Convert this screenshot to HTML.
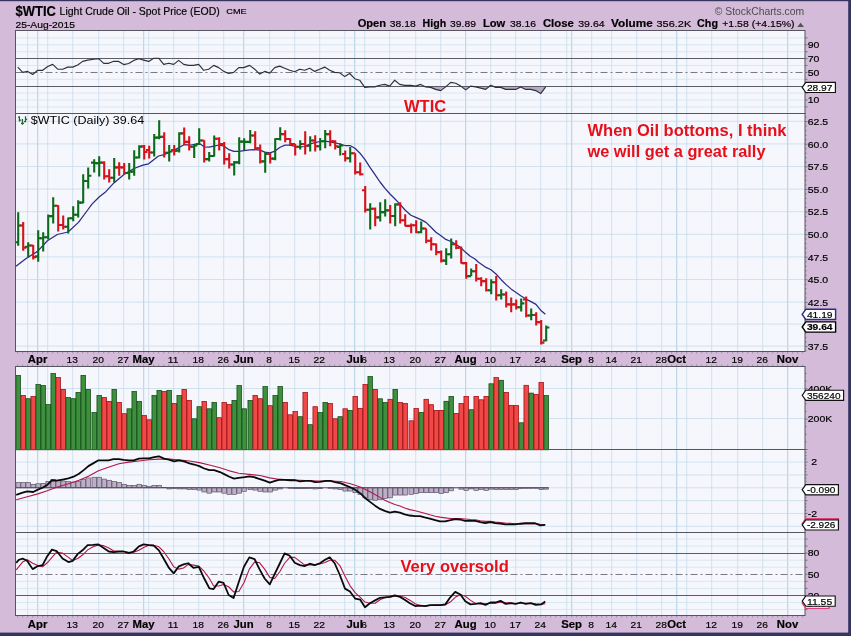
<!DOCTYPE html>
<html><head><meta charset="utf-8"><title>$WTIC chart</title>
<style>
html,body{margin:0;padding:0;background:#D4BBD9;}
body{width:851px;height:636px;overflow:hidden;position:relative;font-family:"Liberation Sans",sans-serif;}
</style></head><body>
<svg width="851" height="636" viewBox="0 0 851 636" style="position:absolute;left:0;top:0;will-change:transform">
<style>text{stroke:#000;stroke-width:0.18px;paint-order:stroke} text.c{stroke:none}</style>
<rect width="851" height="636" fill="#D4BBD9"/>
<rect x="15.5" y="30.5" width="789.5" height="83.0" fill="#F6F6FD"/>
<rect x="15.5" y="113.5" width="789.5" height="238.0" fill="#F6F6FD"/>
<rect x="15.5" y="366.5" width="789.5" height="83.0" fill="#F6F6FD"/>
<rect x="15.5" y="449.5" width="789.5" height="83.0" fill="#F6F6FD"/>
<rect x="15.5" y="532.5" width="789.5" height="83.0" fill="#F6F6FD"/>
<line x1="27.7" y1="30.5" x2="27.7" y2="113.5" stroke="#C0DAE6" stroke-width="0.7"/>
<line x1="47.7" y1="30.5" x2="47.7" y2="113.5" stroke="#C0DAE6" stroke-width="0.7"/>
<line x1="72.7" y1="30.5" x2="72.7" y2="113.5" stroke="#C0DAE6" stroke-width="0.7"/>
<line x1="98.7" y1="30.5" x2="98.7" y2="113.5" stroke="#C0DAE6" stroke-width="0.7"/>
<line x1="123.7" y1="30.5" x2="123.7" y2="113.5" stroke="#C0DAE6" stroke-width="0.7"/>
<line x1="148.7" y1="30.5" x2="148.7" y2="113.5" stroke="#C0DAE6" stroke-width="0.7"/>
<line x1="173.7" y1="30.5" x2="173.7" y2="113.5" stroke="#C0DAE6" stroke-width="0.7"/>
<line x1="198.7" y1="30.5" x2="198.7" y2="113.5" stroke="#C0DAE6" stroke-width="0.7"/>
<line x1="223.7" y1="30.5" x2="223.7" y2="113.5" stroke="#C0DAE6" stroke-width="0.7"/>
<line x1="269.7" y1="30.5" x2="269.7" y2="113.5" stroke="#C0DAE6" stroke-width="0.7"/>
<line x1="294.7" y1="30.5" x2="294.7" y2="113.5" stroke="#C0DAE6" stroke-width="0.7"/>
<line x1="319.7" y1="30.5" x2="319.7" y2="113.5" stroke="#C0DAE6" stroke-width="0.7"/>
<line x1="344.7" y1="30.5" x2="344.7" y2="113.5" stroke="#C0DAE6" stroke-width="0.7"/>
<line x1="364.7" y1="30.5" x2="364.7" y2="113.5" stroke="#C0DAE6" stroke-width="0.7"/>
<line x1="389.7" y1="30.5" x2="389.7" y2="113.5" stroke="#C0DAE6" stroke-width="0.7"/>
<line x1="415.7" y1="30.5" x2="415.7" y2="113.5" stroke="#C0DAE6" stroke-width="0.7"/>
<line x1="440.7" y1="30.5" x2="440.7" y2="113.5" stroke="#C0DAE6" stroke-width="0.7"/>
<line x1="490.7" y1="30.5" x2="490.7" y2="113.5" stroke="#C0DAE6" stroke-width="0.7"/>
<line x1="515.7" y1="30.5" x2="515.7" y2="113.5" stroke="#C0DAE6" stroke-width="0.7"/>
<line x1="540.7" y1="30.5" x2="540.7" y2="113.5" stroke="#C0DAE6" stroke-width="0.7"/>
<line x1="566.7" y1="30.5" x2="566.7" y2="113.5" stroke="#C0DAE6" stroke-width="0.7"/>
<line x1="591.7" y1="30.5" x2="591.7" y2="113.5" stroke="#C0DAE6" stroke-width="0.7"/>
<line x1="611.7" y1="30.5" x2="611.7" y2="113.5" stroke="#C0DAE6" stroke-width="0.7"/>
<line x1="636.7" y1="30.5" x2="636.7" y2="113.5" stroke="#C0DAE6" stroke-width="0.7"/>
<line x1="661.7" y1="30.5" x2="661.7" y2="113.5" stroke="#C0DAE6" stroke-width="0.7"/>
<line x1="686.7" y1="30.5" x2="686.7" y2="113.5" stroke="#C0DAE6" stroke-width="0.7"/>
<line x1="711.7" y1="30.5" x2="711.7" y2="113.5" stroke="#C0DAE6" stroke-width="0.7"/>
<line x1="737.7" y1="30.5" x2="737.7" y2="113.5" stroke="#C0DAE6" stroke-width="0.7"/>
<line x1="762.7" y1="30.5" x2="762.7" y2="113.5" stroke="#C0DAE6" stroke-width="0.7"/>
<line x1="37.7" y1="30.5" x2="37.7" y2="113.5" stroke="#A6CBDD" stroke-width="0.85"/>
<line x1="143.7" y1="30.5" x2="143.7" y2="113.5" stroke="#A6CBDD" stroke-width="0.85"/>
<line x1="243.7" y1="30.5" x2="243.7" y2="113.5" stroke="#A6CBDD" stroke-width="0.85"/>
<line x1="354.7" y1="30.5" x2="354.7" y2="113.5" stroke="#A6CBDD" stroke-width="0.85"/>
<line x1="465.7" y1="30.5" x2="465.7" y2="113.5" stroke="#A6CBDD" stroke-width="0.85"/>
<line x1="571.7" y1="30.5" x2="571.7" y2="113.5" stroke="#A6CBDD" stroke-width="0.85"/>
<line x1="676.7" y1="30.5" x2="676.7" y2="113.5" stroke="#A6CBDD" stroke-width="0.85"/>
<line x1="787.7" y1="30.5" x2="787.7" y2="113.5" stroke="#A6CBDD" stroke-width="0.85"/>
<line x1="27.7" y1="113.5" x2="27.7" y2="351.5" stroke="#C0DAE6" stroke-width="0.7"/>
<line x1="47.7" y1="113.5" x2="47.7" y2="351.5" stroke="#C0DAE6" stroke-width="0.7"/>
<line x1="72.7" y1="113.5" x2="72.7" y2="351.5" stroke="#C0DAE6" stroke-width="0.7"/>
<line x1="98.7" y1="113.5" x2="98.7" y2="351.5" stroke="#C0DAE6" stroke-width="0.7"/>
<line x1="123.7" y1="113.5" x2="123.7" y2="351.5" stroke="#C0DAE6" stroke-width="0.7"/>
<line x1="148.7" y1="113.5" x2="148.7" y2="351.5" stroke="#C0DAE6" stroke-width="0.7"/>
<line x1="173.7" y1="113.5" x2="173.7" y2="351.5" stroke="#C0DAE6" stroke-width="0.7"/>
<line x1="198.7" y1="113.5" x2="198.7" y2="351.5" stroke="#C0DAE6" stroke-width="0.7"/>
<line x1="223.7" y1="113.5" x2="223.7" y2="351.5" stroke="#C0DAE6" stroke-width="0.7"/>
<line x1="269.7" y1="113.5" x2="269.7" y2="351.5" stroke="#C0DAE6" stroke-width="0.7"/>
<line x1="294.7" y1="113.5" x2="294.7" y2="351.5" stroke="#C0DAE6" stroke-width="0.7"/>
<line x1="319.7" y1="113.5" x2="319.7" y2="351.5" stroke="#C0DAE6" stroke-width="0.7"/>
<line x1="344.7" y1="113.5" x2="344.7" y2="351.5" stroke="#C0DAE6" stroke-width="0.7"/>
<line x1="364.7" y1="113.5" x2="364.7" y2="351.5" stroke="#C0DAE6" stroke-width="0.7"/>
<line x1="389.7" y1="113.5" x2="389.7" y2="351.5" stroke="#C0DAE6" stroke-width="0.7"/>
<line x1="415.7" y1="113.5" x2="415.7" y2="351.5" stroke="#C0DAE6" stroke-width="0.7"/>
<line x1="440.7" y1="113.5" x2="440.7" y2="351.5" stroke="#C0DAE6" stroke-width="0.7"/>
<line x1="490.7" y1="113.5" x2="490.7" y2="351.5" stroke="#C0DAE6" stroke-width="0.7"/>
<line x1="515.7" y1="113.5" x2="515.7" y2="351.5" stroke="#C0DAE6" stroke-width="0.7"/>
<line x1="540.7" y1="113.5" x2="540.7" y2="351.5" stroke="#C0DAE6" stroke-width="0.7"/>
<line x1="566.7" y1="113.5" x2="566.7" y2="351.5" stroke="#C0DAE6" stroke-width="0.7"/>
<line x1="591.7" y1="113.5" x2="591.7" y2="351.5" stroke="#C0DAE6" stroke-width="0.7"/>
<line x1="611.7" y1="113.5" x2="611.7" y2="351.5" stroke="#C0DAE6" stroke-width="0.7"/>
<line x1="636.7" y1="113.5" x2="636.7" y2="351.5" stroke="#C0DAE6" stroke-width="0.7"/>
<line x1="661.7" y1="113.5" x2="661.7" y2="351.5" stroke="#C0DAE6" stroke-width="0.7"/>
<line x1="686.7" y1="113.5" x2="686.7" y2="351.5" stroke="#C0DAE6" stroke-width="0.7"/>
<line x1="711.7" y1="113.5" x2="711.7" y2="351.5" stroke="#C0DAE6" stroke-width="0.7"/>
<line x1="737.7" y1="113.5" x2="737.7" y2="351.5" stroke="#C0DAE6" stroke-width="0.7"/>
<line x1="762.7" y1="113.5" x2="762.7" y2="351.5" stroke="#C0DAE6" stroke-width="0.7"/>
<line x1="37.7" y1="113.5" x2="37.7" y2="351.5" stroke="#A6CBDD" stroke-width="0.85"/>
<line x1="143.7" y1="113.5" x2="143.7" y2="351.5" stroke="#A6CBDD" stroke-width="0.85"/>
<line x1="243.7" y1="113.5" x2="243.7" y2="351.5" stroke="#A6CBDD" stroke-width="0.85"/>
<line x1="354.7" y1="113.5" x2="354.7" y2="351.5" stroke="#A6CBDD" stroke-width="0.85"/>
<line x1="465.7" y1="113.5" x2="465.7" y2="351.5" stroke="#A6CBDD" stroke-width="0.85"/>
<line x1="571.7" y1="113.5" x2="571.7" y2="351.5" stroke="#A6CBDD" stroke-width="0.85"/>
<line x1="676.7" y1="113.5" x2="676.7" y2="351.5" stroke="#A6CBDD" stroke-width="0.85"/>
<line x1="787.7" y1="113.5" x2="787.7" y2="351.5" stroke="#A6CBDD" stroke-width="0.85"/>
<line x1="27.7" y1="366.5" x2="27.7" y2="449.5" stroke="#C0DAE6" stroke-width="0.7"/>
<line x1="47.7" y1="366.5" x2="47.7" y2="449.5" stroke="#C0DAE6" stroke-width="0.7"/>
<line x1="72.7" y1="366.5" x2="72.7" y2="449.5" stroke="#C0DAE6" stroke-width="0.7"/>
<line x1="98.7" y1="366.5" x2="98.7" y2="449.5" stroke="#C0DAE6" stroke-width="0.7"/>
<line x1="123.7" y1="366.5" x2="123.7" y2="449.5" stroke="#C0DAE6" stroke-width="0.7"/>
<line x1="148.7" y1="366.5" x2="148.7" y2="449.5" stroke="#C0DAE6" stroke-width="0.7"/>
<line x1="173.7" y1="366.5" x2="173.7" y2="449.5" stroke="#C0DAE6" stroke-width="0.7"/>
<line x1="198.7" y1="366.5" x2="198.7" y2="449.5" stroke="#C0DAE6" stroke-width="0.7"/>
<line x1="223.7" y1="366.5" x2="223.7" y2="449.5" stroke="#C0DAE6" stroke-width="0.7"/>
<line x1="269.7" y1="366.5" x2="269.7" y2="449.5" stroke="#C0DAE6" stroke-width="0.7"/>
<line x1="294.7" y1="366.5" x2="294.7" y2="449.5" stroke="#C0DAE6" stroke-width="0.7"/>
<line x1="319.7" y1="366.5" x2="319.7" y2="449.5" stroke="#C0DAE6" stroke-width="0.7"/>
<line x1="344.7" y1="366.5" x2="344.7" y2="449.5" stroke="#C0DAE6" stroke-width="0.7"/>
<line x1="364.7" y1="366.5" x2="364.7" y2="449.5" stroke="#C0DAE6" stroke-width="0.7"/>
<line x1="389.7" y1="366.5" x2="389.7" y2="449.5" stroke="#C0DAE6" stroke-width="0.7"/>
<line x1="415.7" y1="366.5" x2="415.7" y2="449.5" stroke="#C0DAE6" stroke-width="0.7"/>
<line x1="440.7" y1="366.5" x2="440.7" y2="449.5" stroke="#C0DAE6" stroke-width="0.7"/>
<line x1="490.7" y1="366.5" x2="490.7" y2="449.5" stroke="#C0DAE6" stroke-width="0.7"/>
<line x1="515.7" y1="366.5" x2="515.7" y2="449.5" stroke="#C0DAE6" stroke-width="0.7"/>
<line x1="540.7" y1="366.5" x2="540.7" y2="449.5" stroke="#C0DAE6" stroke-width="0.7"/>
<line x1="566.7" y1="366.5" x2="566.7" y2="449.5" stroke="#C0DAE6" stroke-width="0.7"/>
<line x1="591.7" y1="366.5" x2="591.7" y2="449.5" stroke="#C0DAE6" stroke-width="0.7"/>
<line x1="611.7" y1="366.5" x2="611.7" y2="449.5" stroke="#C0DAE6" stroke-width="0.7"/>
<line x1="636.7" y1="366.5" x2="636.7" y2="449.5" stroke="#C0DAE6" stroke-width="0.7"/>
<line x1="661.7" y1="366.5" x2="661.7" y2="449.5" stroke="#C0DAE6" stroke-width="0.7"/>
<line x1="686.7" y1="366.5" x2="686.7" y2="449.5" stroke="#C0DAE6" stroke-width="0.7"/>
<line x1="711.7" y1="366.5" x2="711.7" y2="449.5" stroke="#C0DAE6" stroke-width="0.7"/>
<line x1="737.7" y1="366.5" x2="737.7" y2="449.5" stroke="#C0DAE6" stroke-width="0.7"/>
<line x1="762.7" y1="366.5" x2="762.7" y2="449.5" stroke="#C0DAE6" stroke-width="0.7"/>
<line x1="37.7" y1="366.5" x2="37.7" y2="449.5" stroke="#A6CBDD" stroke-width="0.85"/>
<line x1="143.7" y1="366.5" x2="143.7" y2="449.5" stroke="#A6CBDD" stroke-width="0.85"/>
<line x1="243.7" y1="366.5" x2="243.7" y2="449.5" stroke="#A6CBDD" stroke-width="0.85"/>
<line x1="354.7" y1="366.5" x2="354.7" y2="449.5" stroke="#A6CBDD" stroke-width="0.85"/>
<line x1="465.7" y1="366.5" x2="465.7" y2="449.5" stroke="#A6CBDD" stroke-width="0.85"/>
<line x1="571.7" y1="366.5" x2="571.7" y2="449.5" stroke="#A6CBDD" stroke-width="0.85"/>
<line x1="676.7" y1="366.5" x2="676.7" y2="449.5" stroke="#A6CBDD" stroke-width="0.85"/>
<line x1="787.7" y1="366.5" x2="787.7" y2="449.5" stroke="#A6CBDD" stroke-width="0.85"/>
<line x1="27.7" y1="449.5" x2="27.7" y2="532.5" stroke="#C0DAE6" stroke-width="0.7"/>
<line x1="47.7" y1="449.5" x2="47.7" y2="532.5" stroke="#C0DAE6" stroke-width="0.7"/>
<line x1="72.7" y1="449.5" x2="72.7" y2="532.5" stroke="#C0DAE6" stroke-width="0.7"/>
<line x1="98.7" y1="449.5" x2="98.7" y2="532.5" stroke="#C0DAE6" stroke-width="0.7"/>
<line x1="123.7" y1="449.5" x2="123.7" y2="532.5" stroke="#C0DAE6" stroke-width="0.7"/>
<line x1="148.7" y1="449.5" x2="148.7" y2="532.5" stroke="#C0DAE6" stroke-width="0.7"/>
<line x1="173.7" y1="449.5" x2="173.7" y2="532.5" stroke="#C0DAE6" stroke-width="0.7"/>
<line x1="198.7" y1="449.5" x2="198.7" y2="532.5" stroke="#C0DAE6" stroke-width="0.7"/>
<line x1="223.7" y1="449.5" x2="223.7" y2="532.5" stroke="#C0DAE6" stroke-width="0.7"/>
<line x1="269.7" y1="449.5" x2="269.7" y2="532.5" stroke="#C0DAE6" stroke-width="0.7"/>
<line x1="294.7" y1="449.5" x2="294.7" y2="532.5" stroke="#C0DAE6" stroke-width="0.7"/>
<line x1="319.7" y1="449.5" x2="319.7" y2="532.5" stroke="#C0DAE6" stroke-width="0.7"/>
<line x1="344.7" y1="449.5" x2="344.7" y2="532.5" stroke="#C0DAE6" stroke-width="0.7"/>
<line x1="364.7" y1="449.5" x2="364.7" y2="532.5" stroke="#C0DAE6" stroke-width="0.7"/>
<line x1="389.7" y1="449.5" x2="389.7" y2="532.5" stroke="#C0DAE6" stroke-width="0.7"/>
<line x1="415.7" y1="449.5" x2="415.7" y2="532.5" stroke="#C0DAE6" stroke-width="0.7"/>
<line x1="440.7" y1="449.5" x2="440.7" y2="532.5" stroke="#C0DAE6" stroke-width="0.7"/>
<line x1="490.7" y1="449.5" x2="490.7" y2="532.5" stroke="#C0DAE6" stroke-width="0.7"/>
<line x1="515.7" y1="449.5" x2="515.7" y2="532.5" stroke="#C0DAE6" stroke-width="0.7"/>
<line x1="540.7" y1="449.5" x2="540.7" y2="532.5" stroke="#C0DAE6" stroke-width="0.7"/>
<line x1="566.7" y1="449.5" x2="566.7" y2="532.5" stroke="#C0DAE6" stroke-width="0.7"/>
<line x1="591.7" y1="449.5" x2="591.7" y2="532.5" stroke="#C0DAE6" stroke-width="0.7"/>
<line x1="611.7" y1="449.5" x2="611.7" y2="532.5" stroke="#C0DAE6" stroke-width="0.7"/>
<line x1="636.7" y1="449.5" x2="636.7" y2="532.5" stroke="#C0DAE6" stroke-width="0.7"/>
<line x1="661.7" y1="449.5" x2="661.7" y2="532.5" stroke="#C0DAE6" stroke-width="0.7"/>
<line x1="686.7" y1="449.5" x2="686.7" y2="532.5" stroke="#C0DAE6" stroke-width="0.7"/>
<line x1="711.7" y1="449.5" x2="711.7" y2="532.5" stroke="#C0DAE6" stroke-width="0.7"/>
<line x1="737.7" y1="449.5" x2="737.7" y2="532.5" stroke="#C0DAE6" stroke-width="0.7"/>
<line x1="762.7" y1="449.5" x2="762.7" y2="532.5" stroke="#C0DAE6" stroke-width="0.7"/>
<line x1="37.7" y1="449.5" x2="37.7" y2="532.5" stroke="#A6CBDD" stroke-width="0.85"/>
<line x1="143.7" y1="449.5" x2="143.7" y2="532.5" stroke="#A6CBDD" stroke-width="0.85"/>
<line x1="243.7" y1="449.5" x2="243.7" y2="532.5" stroke="#A6CBDD" stroke-width="0.85"/>
<line x1="354.7" y1="449.5" x2="354.7" y2="532.5" stroke="#A6CBDD" stroke-width="0.85"/>
<line x1="465.7" y1="449.5" x2="465.7" y2="532.5" stroke="#A6CBDD" stroke-width="0.85"/>
<line x1="571.7" y1="449.5" x2="571.7" y2="532.5" stroke="#A6CBDD" stroke-width="0.85"/>
<line x1="676.7" y1="449.5" x2="676.7" y2="532.5" stroke="#A6CBDD" stroke-width="0.85"/>
<line x1="787.7" y1="449.5" x2="787.7" y2="532.5" stroke="#A6CBDD" stroke-width="0.85"/>
<line x1="27.7" y1="532.5" x2="27.7" y2="615.5" stroke="#C0DAE6" stroke-width="0.7"/>
<line x1="47.7" y1="532.5" x2="47.7" y2="615.5" stroke="#C0DAE6" stroke-width="0.7"/>
<line x1="72.7" y1="532.5" x2="72.7" y2="615.5" stroke="#C0DAE6" stroke-width="0.7"/>
<line x1="98.7" y1="532.5" x2="98.7" y2="615.5" stroke="#C0DAE6" stroke-width="0.7"/>
<line x1="123.7" y1="532.5" x2="123.7" y2="615.5" stroke="#C0DAE6" stroke-width="0.7"/>
<line x1="148.7" y1="532.5" x2="148.7" y2="615.5" stroke="#C0DAE6" stroke-width="0.7"/>
<line x1="173.7" y1="532.5" x2="173.7" y2="615.5" stroke="#C0DAE6" stroke-width="0.7"/>
<line x1="198.7" y1="532.5" x2="198.7" y2="615.5" stroke="#C0DAE6" stroke-width="0.7"/>
<line x1="223.7" y1="532.5" x2="223.7" y2="615.5" stroke="#C0DAE6" stroke-width="0.7"/>
<line x1="269.7" y1="532.5" x2="269.7" y2="615.5" stroke="#C0DAE6" stroke-width="0.7"/>
<line x1="294.7" y1="532.5" x2="294.7" y2="615.5" stroke="#C0DAE6" stroke-width="0.7"/>
<line x1="319.7" y1="532.5" x2="319.7" y2="615.5" stroke="#C0DAE6" stroke-width="0.7"/>
<line x1="344.7" y1="532.5" x2="344.7" y2="615.5" stroke="#C0DAE6" stroke-width="0.7"/>
<line x1="364.7" y1="532.5" x2="364.7" y2="615.5" stroke="#C0DAE6" stroke-width="0.7"/>
<line x1="389.7" y1="532.5" x2="389.7" y2="615.5" stroke="#C0DAE6" stroke-width="0.7"/>
<line x1="415.7" y1="532.5" x2="415.7" y2="615.5" stroke="#C0DAE6" stroke-width="0.7"/>
<line x1="440.7" y1="532.5" x2="440.7" y2="615.5" stroke="#C0DAE6" stroke-width="0.7"/>
<line x1="490.7" y1="532.5" x2="490.7" y2="615.5" stroke="#C0DAE6" stroke-width="0.7"/>
<line x1="515.7" y1="532.5" x2="515.7" y2="615.5" stroke="#C0DAE6" stroke-width="0.7"/>
<line x1="540.7" y1="532.5" x2="540.7" y2="615.5" stroke="#C0DAE6" stroke-width="0.7"/>
<line x1="566.7" y1="532.5" x2="566.7" y2="615.5" stroke="#C0DAE6" stroke-width="0.7"/>
<line x1="591.7" y1="532.5" x2="591.7" y2="615.5" stroke="#C0DAE6" stroke-width="0.7"/>
<line x1="611.7" y1="532.5" x2="611.7" y2="615.5" stroke="#C0DAE6" stroke-width="0.7"/>
<line x1="636.7" y1="532.5" x2="636.7" y2="615.5" stroke="#C0DAE6" stroke-width="0.7"/>
<line x1="661.7" y1="532.5" x2="661.7" y2="615.5" stroke="#C0DAE6" stroke-width="0.7"/>
<line x1="686.7" y1="532.5" x2="686.7" y2="615.5" stroke="#C0DAE6" stroke-width="0.7"/>
<line x1="711.7" y1="532.5" x2="711.7" y2="615.5" stroke="#C0DAE6" stroke-width="0.7"/>
<line x1="737.7" y1="532.5" x2="737.7" y2="615.5" stroke="#C0DAE6" stroke-width="0.7"/>
<line x1="762.7" y1="532.5" x2="762.7" y2="615.5" stroke="#C0DAE6" stroke-width="0.7"/>
<line x1="37.7" y1="532.5" x2="37.7" y2="615.5" stroke="#A6CBDD" stroke-width="0.85"/>
<line x1="143.7" y1="532.5" x2="143.7" y2="615.5" stroke="#A6CBDD" stroke-width="0.85"/>
<line x1="243.7" y1="532.5" x2="243.7" y2="615.5" stroke="#A6CBDD" stroke-width="0.85"/>
<line x1="354.7" y1="532.5" x2="354.7" y2="615.5" stroke="#A6CBDD" stroke-width="0.85"/>
<line x1="465.7" y1="532.5" x2="465.7" y2="615.5" stroke="#A6CBDD" stroke-width="0.85"/>
<line x1="571.7" y1="532.5" x2="571.7" y2="615.5" stroke="#A6CBDD" stroke-width="0.85"/>
<line x1="676.7" y1="532.5" x2="676.7" y2="615.5" stroke="#A6CBDD" stroke-width="0.85"/>
<line x1="787.7" y1="532.5" x2="787.7" y2="615.5" stroke="#A6CBDD" stroke-width="0.85"/>
<line x1="15.5" y1="106.9" x2="805.0" y2="106.9" stroke="#CBE2EC" stroke-width="0.7"/>
<line x1="15.5" y1="100" x2="805.0" y2="100" stroke="#CBE2EC" stroke-width="0.7"/>
<line x1="15.5" y1="93.1" x2="805.0" y2="93.1" stroke="#CBE2EC" stroke-width="0.7"/>
<line x1="15.5" y1="79.3" x2="805.0" y2="79.3" stroke="#CBE2EC" stroke-width="0.7"/>
<line x1="15.5" y1="65.5" x2="805.0" y2="65.5" stroke="#CBE2EC" stroke-width="0.7"/>
<line x1="15.5" y1="51.7" x2="805.0" y2="51.7" stroke="#CBE2EC" stroke-width="0.7"/>
<line x1="15.5" y1="44.8" x2="805.0" y2="44.8" stroke="#CBE2EC" stroke-width="0.7"/>
<line x1="15.5" y1="37.9" x2="805.0" y2="37.9" stroke="#CBE2EC" stroke-width="0.7"/>
<clipPath id="c30"><rect x="15.5" y="86.2" width="789.5" height="40"/></clipPath>
<path d="M17.7 86.2 L17.7 67.1 L22.7 72.4 L27.7 71.4 L32.7 74.5 L37.7 70.3 L42.7 70.3 L47.7 66.5 L52.7 64.4 L57.7 69.2 L62.7 69.2 L67.7 67.1 L72.7 67.1 L77.7 65 L82.7 61.4 L87.7 60.1 L93.7 59.3 L98.7 58.7 L103.7 63.3 L108.7 63.3 L113.7 61.2 L118.7 61.4 L123.7 64.6 L128.7 63.5 L133.7 60.4 L138.7 58.7 L143.7 60.1 L148.7 61.4 L153.7 58.2 L158.7 58.2 L163.7 64.4 L168.7 63.3 L173.7 64.4 L178.7 60.4 L183.7 64.4 L188.7 65.4 L193.7 65.4 L198.7 64.4 L203.7 70.3 L208.7 69.2 L213.7 65.4 L218.7 67.6 L223.7 71.4 L228.7 73.5 L233.7 72.4 L238.7 67.6 L243.7 67.6 L249.7 65.4 L254.7 69.2 L259.7 74.1 L264.7 71.4 L269.7 73.1 L274.7 67.6 L279.7 66.1 L284.7 68.2 L289.7 70.3 L294.7 71.8 L299.7 69.2 L304.7 70.3 L309.7 68.2 L314.7 71.4 L319.7 69.2 L324.7 67.1 L329.7 70.3 L334.7 72.4 L339.7 72.8 L344.7 76.6 L349.7 73.5 L354.7 78.7 L359.7 80.2 L364.7 87.4 L369.7 86.9 L374.7 86.9 L379.7 85.2 L384.7 84.4 L389.7 86.1 L394.7 80.2 L399.7 84.4 L404.7 85.4 L410.7 85.4 L415.7 86.1 L420.7 84.4 L425.7 86.9 L430.7 87.4 L435.7 89.4 L440.7 90.6 L445.7 86.9 L450.7 82.4 L455.7 83.2 L460.7 86.1 L465.7 89.9 L470.7 86.1 L475.7 86.9 L480.7 88.1 L485.7 89.4 L490.7 85.2 L495.7 87.4 L500.7 87.4 L505.7 89.4 L510.7 89.4 L515.7 89.4 L520.7 86.9 L525.7 89.4 L530.7 89.4 L535.7 90.6 L540.7 93.6 L545.7 86.9 L545.7 86.2 Z" fill="#b9a9c4" clip-path="url(#c30)"/>
<line x1="15.5" y1="58.5" x2="805.0" y2="58.5" stroke="#5c5c66" stroke-width="1.0"/>
<line x1="15.5" y1="86.5" x2="805.0" y2="86.5" stroke="#5c5c66" stroke-width="1.0"/>
<line x1="15.5" y1="72.5" x2="805.0" y2="72.5" stroke="#7a7a84" stroke-width="1.0" stroke-dasharray="7 3 2 3"/>
<path d="M17.7 67.1 L22.7 72.4 L27.7 71.4 L32.7 74.5 L37.7 70.3 L42.7 70.3 L47.7 66.5 L52.7 64.4 L57.7 69.2 L62.7 69.2 L67.7 67.1 L72.7 67.1 L77.7 65 L82.7 61.4 L87.7 60.1 L93.7 59.3 L98.7 58.7 L103.7 63.3 L108.7 63.3 L113.7 61.2 L118.7 61.4 L123.7 64.6 L128.7 63.5 L133.7 60.4 L138.7 58.7 L143.7 60.1 L148.7 61.4 L153.7 58.2 L158.7 58.2 L163.7 64.4 L168.7 63.3 L173.7 64.4 L178.7 60.4 L183.7 64.4 L188.7 65.4 L193.7 65.4 L198.7 64.4 L203.7 70.3 L208.7 69.2 L213.7 65.4 L218.7 67.6 L223.7 71.4 L228.7 73.5 L233.7 72.4 L238.7 67.6 L243.7 67.6 L249.7 65.4 L254.7 69.2 L259.7 74.1 L264.7 71.4 L269.7 73.1 L274.7 67.6 L279.7 66.1 L284.7 68.2 L289.7 70.3 L294.7 71.8 L299.7 69.2 L304.7 70.3 L309.7 68.2 L314.7 71.4 L319.7 69.2 L324.7 67.1 L329.7 70.3 L334.7 72.4 L339.7 72.8 L344.7 76.6 L349.7 73.5 L354.7 78.7 L359.7 80.2 L364.7 87.4 L369.7 86.9 L374.7 86.9 L379.7 85.2 L384.7 84.4 L389.7 86.1 L394.7 80.2 L399.7 84.4 L404.7 85.4 L410.7 85.4 L415.7 86.1 L420.7 84.4 L425.7 86.9 L430.7 87.4 L435.7 89.4 L440.7 90.6 L445.7 86.9 L450.7 82.4 L455.7 83.2 L460.7 86.1 L465.7 89.9 L470.7 86.1 L475.7 86.9 L480.7 88.1 L485.7 89.4 L490.7 85.2 L495.7 87.4 L500.7 87.4 L505.7 89.4 L510.7 89.4 L515.7 89.4 L520.7 86.9 L525.7 89.4 L530.7 89.4 L535.7 90.6 L540.7 93.6 L545.7 86.9" fill="none" stroke="#30303a" stroke-width="1.15" stroke-linejoin="round"/>
<line x1="15.5" y1="346.1" x2="805.0" y2="346.1" stroke="#C0DAE6" stroke-width="0.7"/>
<line x1="15.5" y1="324.1" x2="805.0" y2="324.1" stroke="#C0DAE6" stroke-width="0.7"/>
<line x1="15.5" y1="302.1" x2="805.0" y2="302.1" stroke="#C0DAE6" stroke-width="0.7"/>
<line x1="15.5" y1="279.5" x2="805.0" y2="279.5" stroke="#C0DAE6" stroke-width="0.7"/>
<line x1="15.5" y1="256.9" x2="805.0" y2="256.9" stroke="#C0DAE6" stroke-width="0.7"/>
<line x1="15.5" y1="234.3" x2="805.0" y2="234.3" stroke="#C0DAE6" stroke-width="0.7"/>
<line x1="15.5" y1="211.7" x2="805.0" y2="211.7" stroke="#C0DAE6" stroke-width="0.7"/>
<line x1="15.5" y1="189.1" x2="805.0" y2="189.1" stroke="#C0DAE6" stroke-width="0.7"/>
<line x1="15.5" y1="166.5" x2="805.0" y2="166.5" stroke="#C0DAE6" stroke-width="0.7"/>
<line x1="15.5" y1="143.9" x2="805.0" y2="143.9" stroke="#C0DAE6" stroke-width="0.7"/>
<line x1="15.5" y1="121.3" x2="805.0" y2="121.3" stroke="#C0DAE6" stroke-width="0.7"/>
<path d="M16 266.3 L26.1 258.5 L37.5 251.4 L47.4 240.8 L57.3 234.5 L68 232 L78.5 222.4 L88.4 209 L92 204.1 L99.1 197 L106.1 191.4 L113.9 182.9 L124 174.4 L134 168.5 L142.9 165.2 L148.6 163.8 L158.5 156 L164.1 154.6 L169.1 152.5 L179 147.5 L184.1 144.7 L191 145 L199.1 143.3 L204.2 146.8 L208.9 147.2 L214 146.1 L218.8 145 L223.9 146.1 L229 149.7 L233.9 151.4 L238.9 151.4 L244 150.6 L249.8 149.9 L254.9 149.7 L260 150.1 L264.9 152.1 L270 152.9 L275 151.1 L280.1 147.2 L285 145.1 L290.1 145.1 L295 146.4 L300 146.8 L305 146.5 L310 144 L314.9 142.6 L319.9 141.5 L324.9 141.2 L329.9 141.9 L335 142.9 L339.9 144 L345 145.5 L350 145.5 L354.9 148.3 L360 153.2 L365 159.6 L370 167.4 L375 174.7 L380 182 L385 188.4 L390 194 L395 199 L400 204.1 L405 210 L410.9 215.3 L415.8 217.4 L420.9 219.6 L426 222.4 L431 227.3 L436 232.3 L441 235.8 L445.8 239.4 L450.9 241.5 L455.9 244.3 L460.9 247.8 L465.3 252.1 L470.3 256.3 L475 259 L478.2 262 L486 267.4 L491 269.8 L496 274 L501.2 279.7 L506.1 284.6 L511 288.9 L516.1 292.4 L521.1 295.9 L526 299.1 L531 301.6 L536 304.4 L541.2 310.8 L545.4 314.3" fill="none" stroke="#2b2b86" stroke-width="1.25" stroke-linejoin="round"/>
<clipPath id="cm"><rect x="15.5" y="113.5" width="789.5" height="238.0"/></clipPath><g clip-path="url(#cm)">
<path d="M18.2 212.2V245.8M15 242.2H18.2M18.2 225.5H21.4" stroke="#0b6b1b" stroke-width="2.1" fill="none"/>
<path d="M23.2 222V250.7M20 225.5H23.2M23.2 247.6H26.4" stroke="#d6121a" stroke-width="2.1" fill="none"/>
<path d="M28.2 242.2V257.5M25 246.8H28.2M28.2 245.5H31.4" stroke="#0b6b1b" stroke-width="2.1" fill="none"/>
<path d="M33.2 245V259.5M30 245.5H33.2M33.2 257.1H36.4" stroke="#d6121a" stroke-width="2.1" fill="none"/>
<path d="M38.2 230.2V261.8M35 256.4H38.2M38.2 238.3H41.4" stroke="#0b6b1b" stroke-width="2.1" fill="none"/>
<path d="M43.2 232.3V251.4M40 238.3H43.2M43.2 237.3H46.4" stroke="#0b6b1b" stroke-width="2.1" fill="none"/>
<path d="M48.2 214.4V239.4M45 237.3H48.2M48.2 216.1H51.4" stroke="#0b6b1b" stroke-width="2.1" fill="none"/>
<path d="M53.2 197.3V223.4M50 216.1H53.2M53.2 205.7H56.4" stroke="#0b6b1b" stroke-width="2.1" fill="none"/>
<path d="M58.2 205.2V231.6M55 205.7H58.2M58.2 225H61.4" stroke="#d6121a" stroke-width="2.1" fill="none"/>
<path d="M63.2 215.4V229.5M60 225H63.2M63.2 226.7H66.4" stroke="#d6121a" stroke-width="2.1" fill="none"/>
<path d="M68.2 217.5V233.5M65 226.7H68.2M68.2 218.2H71.4" stroke="#0b6b1b" stroke-width="2.1" fill="none"/>
<path d="M73.2 206.2V221.3M70 218.2H73.2M73.2 214.7H76.4" stroke="#0b6b1b" stroke-width="2.1" fill="none"/>
<path d="M78.2 200.2V217.5M75 214.7H78.2M78.2 202.6H81.4" stroke="#0b6b1b" stroke-width="2.1" fill="none"/>
<path d="M83.2 174.2V203.3M80 202.6H83.2M83.2 181H86.4" stroke="#0b6b1b" stroke-width="2.1" fill="none"/>
<path d="M88.2 167.4V188.6M85 181H88.2M88.2 175.8H91.4" stroke="#0b6b1b" stroke-width="2.1" fill="none"/>
<path d="M94.2 159.3V172.5M91 162.6H94.2M94.2 163.1H97.4" stroke="#0b6b1b" stroke-width="2.1" fill="none"/>
<path d="M99.2 156.2V176.6M96 163.1H99.2M99.2 162.6H102.4" stroke="#0b6b1b" stroke-width="2.1" fill="none"/>
<path d="M104.2 161.2V179.6M101 162.6H104.2M104.2 176.3H107.4" stroke="#d6121a" stroke-width="2.1" fill="none"/>
<path d="M109.2 169.2V182.6M106 176.3H109.2M109.2 177.7H112.4" stroke="#d6121a" stroke-width="2.1" fill="none"/>
<path d="M114.2 158.1V182.6M111 177.7H114.2M114.2 167.4H117.4" stroke="#0b6b1b" stroke-width="2.1" fill="none"/>
<path d="M119.2 162.2V175.7M116 167.4H119.2M119.2 167.4H122.4" stroke="#d6121a" stroke-width="2.1" fill="none"/>
<path d="M124.2 163.1V174.2M121 167.4H124.2M124.2 173H127.4" stroke="#d6121a" stroke-width="2.1" fill="none"/>
<path d="M129.2 163.1V179.6M126 173H129.2M129.2 171.6H132.4" stroke="#0b6b1b" stroke-width="2.1" fill="none"/>
<path d="M134.2 150.2V175.7M131 171.6H134.2M134.2 157.5H137.4" stroke="#0b6b1b" stroke-width="2.1" fill="none"/>
<path d="M139.2 145.2V158.4M136 157.5H139.2M139.2 146.6H142.4" stroke="#0b6b1b" stroke-width="2.1" fill="none"/>
<path d="M144.2 145.1V159.6M141 146.4H144.2M144.2 152H147.4" stroke="#d6121a" stroke-width="2.1" fill="none"/>
<path d="M149.2 145.8V158.6M146 150H149.2M149.2 152.5H152.4" stroke="#d6121a" stroke-width="2.1" fill="none"/>
<path d="M154.2 134.1V156.4M151 152.5H154.2M154.2 137.6H157.4" stroke="#0b6b1b" stroke-width="2.1" fill="none"/>
<path d="M159.2 120.2V139.3M156 137.6H159.2M159.2 136.9H162.4" stroke="#0b6b1b" stroke-width="2.1" fill="none"/>
<path d="M164.2 132.3V157.4M161 136.9H164.2M164.2 152.9H167.4" stroke="#d6121a" stroke-width="2.1" fill="none"/>
<path d="M169.2 145.1V161.4M166 152.9H169.2M169.2 151.5H172.4" stroke="#0b6b1b" stroke-width="2.1" fill="none"/>
<path d="M174.2 145.1V155.6M171 150H174.2M174.2 150.9H177.4" stroke="#d6121a" stroke-width="2.1" fill="none"/>
<path d="M179.2 132.3V152.5M176 150.4H179.2M179.2 133.4H182.4" stroke="#0b6b1b" stroke-width="2.1" fill="none"/>
<path d="M184.2 127.4V145.1M181 133.4H184.2M184.2 141.9H187.4" stroke="#d6121a" stroke-width="2.1" fill="none"/>
<path d="M189.2 136.2V150.4M186 141.9H189.2M189.2 146.8H192.4" stroke="#d6121a" stroke-width="2.1" fill="none"/>
<path d="M194.2 144.7V158.1M191 146.8H194.2M194.2 145.4H197.4" stroke="#0b6b1b" stroke-width="2.1" fill="none"/>
<path d="M199.2 128.2V145.1M196 144H199.2M199.2 140.5H202.4" stroke="#0b6b1b" stroke-width="2.1" fill="none"/>
<path d="M204.2 140.2V162.4M201 140.5H204.2M204.2 159.1H207.4" stroke="#d6121a" stroke-width="2.1" fill="none"/>
<path d="M209.2 152.1V161.4M206 159.1H209.2M209.2 156H212.4" stroke="#0b6b1b" stroke-width="2.1" fill="none"/>
<path d="M214.2 135.5V156.4M211 156H214.2M214.2 138.8H217.4" stroke="#0b6b1b" stroke-width="2.1" fill="none"/>
<path d="M219.2 137.2V150.4M216 138.8H219.2M219.2 144H222.4" stroke="#d6121a" stroke-width="2.1" fill="none"/>
<path d="M224.2 141.9V164.5M221 144H224.2M224.2 159.1H227.4" stroke="#d6121a" stroke-width="2.1" fill="none"/>
<path d="M229.2 153.2V168.5M226 159.1H229.2M229.2 164.5H232.4" stroke="#d6121a" stroke-width="2.1" fill="none"/>
<path d="M234.2 161V175.4M231 164.5H234.2M234.2 162.4H237.4" stroke="#0b6b1b" stroke-width="2.1" fill="none"/>
<path d="M239.2 137.2V164.2M236 162.4H239.2M239.2 141.6H242.4" stroke="#0b6b1b" stroke-width="2.1" fill="none"/>
<path d="M244.2 138.3V150.4M241 141.6H244.2M244.2 141.9H247.4" stroke="#0b6b1b" stroke-width="2.1" fill="none"/>
<path d="M250.2 130.1V143.3M247 141.9H250.2M250.2 135.5H253.4" stroke="#0b6b1b" stroke-width="2.1" fill="none"/>
<path d="M255.2 131.3V150.1M252 135.5H255.2M255.2 148.2H258.4" stroke="#d6121a" stroke-width="2.1" fill="none"/>
<path d="M260.2 144.4V163.4M257 148.2H260.2M260.2 161.4H263.4" stroke="#d6121a" stroke-width="2.1" fill="none"/>
<path d="M265.2 152.1V172.7M262 161.4H265.2M265.2 153.9H268.4" stroke="#0b6b1b" stroke-width="2.1" fill="none"/>
<path d="M270.2 152.9V163.4M267 153.9H270.2M270.2 158.6H273.4" stroke="#d6121a" stroke-width="2.1" fill="none"/>
<path d="M275.2 138.3V160.3M272 158.6H275.2M275.2 139H278.4" stroke="#0b6b1b" stroke-width="2.1" fill="none"/>
<path d="M280.2 127.3V140.5M277 139H280.2M280.2 134.1H283.4" stroke="#0b6b1b" stroke-width="2.1" fill="none"/>
<path d="M285.2 130.3V142.3M282 134.1H285.2M285.2 139H288.4" stroke="#d6121a" stroke-width="2.1" fill="none"/>
<path d="M290.2 138.3V146.1M287 139H290.2M290.2 144H293.4" stroke="#d6121a" stroke-width="2.1" fill="none"/>
<path d="M295.2 144V155.6M292 144H295.2M295.2 146.8H298.4" stroke="#d6121a" stroke-width="2.1" fill="none"/>
<path d="M300.2 140.2V149.4M297 146.8H300.2M300.2 144H303.4" stroke="#0b6b1b" stroke-width="2.1" fill="none"/>
<path d="M305.2 131.3V154.6M302 144H305.2M305.2 145.8H308.4" stroke="#d6121a" stroke-width="2.1" fill="none"/>
<path d="M310.2 136.2V151.5M307 145.8H310.2M310.2 140.5H313.4" stroke="#0b6b1b" stroke-width="2.1" fill="none"/>
<path d="M315.2 135.3V151.4M312 140.5H315.2M315.2 146.2H318.4" stroke="#d6121a" stroke-width="2.1" fill="none"/>
<path d="M320.2 138.1V150.4M317 146.2H320.2M320.2 141.2H323.4" stroke="#0b6b1b" stroke-width="2.1" fill="none"/>
<path d="M325.2 129.9V148.3M322 141.2H325.2M325.2 134.1H328.4" stroke="#0b6b1b" stroke-width="2.1" fill="none"/>
<path d="M330.2 130.2V146.2M327 134.1H330.2M330.2 141.2H333.4" stroke="#d6121a" stroke-width="2.1" fill="none"/>
<path d="M335.2 140.2V149.4M332 141.2H335.2M335.2 146.2H338.4" stroke="#d6121a" stroke-width="2.1" fill="none"/>
<path d="M340.2 143.3V155.4M337 146.9H340.2M340.2 145.5H343.4" stroke="#0b6b1b" stroke-width="2.1" fill="none"/>
<path d="M345.2 150.4V161.4M342 154H345.2M345.2 158.2H348.4" stroke="#d6121a" stroke-width="2.1" fill="none"/>
<path d="M350.2 146.9V162.4M347 158.2H350.2M350.2 153.2H353.4" stroke="#0b6b1b" stroke-width="2.1" fill="none"/>
<path d="M355.2 153.2V174.5M352 153.2H355.2M355.2 172.3H358.4" stroke="#d6121a" stroke-width="2.1" fill="none"/>
<path d="M360.2 162.4V175.4M357 172.3H360.2M360.2 174.2H363.4" stroke="#d6121a" stroke-width="2.1" fill="none"/>
<path d="M365.2 186V212.5M362 190.3H365.2M365.2 209.7H368.4" stroke="#d6121a" stroke-width="2.1" fill="none"/>
<path d="M370.2 203.3V229.5M367 209.7H370.2M370.2 208.7H373.4" stroke="#0b6b1b" stroke-width="2.1" fill="none"/>
<path d="M375.2 207.5V226.2M372 208.7H375.2M375.2 217.4H378.4" stroke="#d6121a" stroke-width="2.1" fill="none"/>
<path d="M380.2 202.3V221.4M377 217.4H380.2M380.2 212.1H383.4" stroke="#0b6b1b" stroke-width="2.1" fill="none"/>
<path d="M385.2 199.3V216.4M382 212.1H385.2M385.2 210.4H388.4" stroke="#0b6b1b" stroke-width="2.1" fill="none"/>
<path d="M390.2 205.1V223.4M387 210.4H390.2M390.2 216H393.4" stroke="#d6121a" stroke-width="2.1" fill="none"/>
<path d="M395.2 203.3V226.2M392 216H395.2M395.2 204.4H398.4" stroke="#0b6b1b" stroke-width="2.1" fill="none"/>
<path d="M400.2 202.3V223.4M397 204.4H400.2M400.2 220.3H403.4" stroke="#d6121a" stroke-width="2.1" fill="none"/>
<path d="M405.2 214.3V226.2M402 220.3H405.2M405.2 225.9H408.4" stroke="#d6121a" stroke-width="2.1" fill="none"/>
<path d="M411.2 223.4V233.3M408 225.9H411.2M411.2 225.2H414.4" stroke="#d6121a" stroke-width="2.1" fill="none"/>
<path d="M416.2 220.3V233.3M413 225.2H416.2M416.2 232.3H419.4" stroke="#d6121a" stroke-width="2.1" fill="none"/>
<path d="M421.2 221.4V233.3M418 232.3H421.2M421.2 228.5H424.4" stroke="#0b6b1b" stroke-width="2.1" fill="none"/>
<path d="M426.2 228.5V243.3M423 228.5H426.2M426.2 240.8H429.4" stroke="#d6121a" stroke-width="2.1" fill="none"/>
<path d="M431.2 237.2V250.4M428 240.8H431.2M431.2 244.3H434.4" stroke="#d6121a" stroke-width="2.1" fill="none"/>
<path d="M436.2 243.6V255.3M433 244.3H436.2M436.2 252.1H439.4" stroke="#d6121a" stroke-width="2.1" fill="none"/>
<path d="M441.2 250.4V262.4M438 252.1H441.2M441.2 260.6H444.4" stroke="#d6121a" stroke-width="2.1" fill="none"/>
<path d="M446.2 248.3V265M443 260.6H446.2M446.2 254.2H449.4" stroke="#0b6b1b" stroke-width="2.1" fill="none"/>
<path d="M451.2 238.4V258.5M448 254.2H451.2M451.2 244.3H454.4" stroke="#0b6b1b" stroke-width="2.1" fill="none"/>
<path d="M456.2 240.3V249.3M453 244.3H456.2M456.2 247.8H459.4" stroke="#d6121a" stroke-width="2.1" fill="none"/>
<path d="M461.2 246.4V263.4M458 247.8H461.2M461.2 263.1H464.4" stroke="#d6121a" stroke-width="2.1" fill="none"/>
<path d="M466.2 262V278.7M463 263.1H466.2M466.2 276.1H469.4" stroke="#d6121a" stroke-width="2.1" fill="none"/>
<path d="M471.2 268.4V276.1M468 276.1H471.2M471.2 271.2H474.4" stroke="#0b6b1b" stroke-width="2.1" fill="none"/>
<path d="M476.2 264.1V281.5M473 271.2H476.2M476.2 278.7H479.4" stroke="#d6121a" stroke-width="2.1" fill="none"/>
<path d="M481.2 277.3V286.3M478 278.7H481.2M481.2 281.1H484.4" stroke="#d6121a" stroke-width="2.1" fill="none"/>
<path d="M486.2 278.3V291.4M483 281.1H486.2M486.2 290.3H489.4" stroke="#d6121a" stroke-width="2.1" fill="none"/>
<path d="M491.2 279.3V294.2M488 290.3H491.2M491.2 282.2H494.4" stroke="#0b6b1b" stroke-width="2.1" fill="none"/>
<path d="M496.2 276.1V300.5M493 282.2H496.2M496.2 295.2H499.4" stroke="#d6121a" stroke-width="2.1" fill="none"/>
<path d="M501.2 289.3V299.5M498 295.2H501.2M501.2 294.5H504.4" stroke="#0b6b1b" stroke-width="2.1" fill="none"/>
<path d="M506.2 291.4V307.5M503 294.5H506.2M506.2 304.4H509.4" stroke="#d6121a" stroke-width="2.1" fill="none"/>
<path d="M511.2 297.4V312.2M508 304.4H511.2M511.2 304.4H514.4" stroke="#d6121a" stroke-width="2.1" fill="none"/>
<path d="M516.2 299.5V309.4M513 304.4H516.2M516.2 307.3H519.4" stroke="#d6121a" stroke-width="2.1" fill="none"/>
<path d="M521.2 298.5V311.5M518 307.3H521.2M521.2 303.4H524.4" stroke="#0b6b1b" stroke-width="2.1" fill="none"/>
<path d="M526.2 296.4V317.2M523 299.5H526.2M526.2 315.5H529.4" stroke="#d6121a" stroke-width="2.1" fill="none"/>
<path d="M531.2 308.4V320.3M528 315.5H531.2M531.2 315H534.4" stroke="#0b6b1b" stroke-width="2.1" fill="none"/>
<path d="M536.2 312.2V325.4M533 315H536.2M536.2 322.1H539.4" stroke="#d6121a" stroke-width="2.1" fill="none"/>
<path d="M541.2 320V344.5M538 322.1H541.2M541.2 342.6H544.4" stroke="#d6121a" stroke-width="2.1" fill="none"/>
<path d="M546.2 325.4V341.2M543 340.5H546.2M546.2 327.5H549.4" stroke="#0b6b1b" stroke-width="2.1" fill="none"/>
</g>
<line x1="15.5" y1="388.5" x2="805.0" y2="388.5" stroke="#C0DAE6" stroke-width="0.7"/>
<line x1="15.5" y1="418.5" x2="805.0" y2="418.5" stroke="#C0DAE6" stroke-width="0.7"/>
<clipPath id="cv"><rect x="15.5" y="366.5" width="789.5" height="249.0"/></clipPath><g clip-path="url(#cv)">
<rect x="15.95" y="375.4" width="4.5" height="74.4" fill="#3f8f3f" stroke="#0b4a10" stroke-width="0.75"/>
<rect x="20.95" y="395.5" width="4.5" height="54.3" fill="#f04848" stroke="#a00a0a" stroke-width="0.75"/>
<rect x="25.95" y="398.7" width="4.5" height="51.1" fill="#3f8f3f" stroke="#0b4a10" stroke-width="0.75"/>
<rect x="30.95" y="396.6" width="4.5" height="53.2" fill="#f04848" stroke="#a00a0a" stroke-width="0.75"/>
<rect x="35.95" y="384.5" width="4.5" height="65.3" fill="#3f8f3f" stroke="#0b4a10" stroke-width="0.75"/>
<rect x="40.95" y="385.6" width="4.5" height="64.2" fill="#3f8f3f" stroke="#0b4a10" stroke-width="0.75"/>
<rect x="45.95" y="404.6" width="4.5" height="45.2" fill="#3f8f3f" stroke="#0b4a10" stroke-width="0.75"/>
<rect x="50.95" y="373.5" width="4.5" height="76.3" fill="#3f8f3f" stroke="#0b4a10" stroke-width="0.75"/>
<rect x="55.95" y="377.5" width="4.5" height="72.3" fill="#f04848" stroke="#a00a0a" stroke-width="0.75"/>
<rect x="60.95" y="389.4" width="4.5" height="60.4" fill="#f04848" stroke="#a00a0a" stroke-width="0.75"/>
<rect x="65.95" y="397.6" width="4.5" height="52.2" fill="#3f8f3f" stroke="#0b4a10" stroke-width="0.75"/>
<rect x="70.95" y="398.7" width="4.5" height="51.1" fill="#3f8f3f" stroke="#0b4a10" stroke-width="0.75"/>
<rect x="75.95" y="392.5" width="4.5" height="57.3" fill="#3f8f3f" stroke="#0b4a10" stroke-width="0.75"/>
<rect x="80.95" y="375.4" width="4.5" height="74.4" fill="#3f8f3f" stroke="#0b4a10" stroke-width="0.75"/>
<rect x="85.95" y="389.4" width="4.5" height="60.4" fill="#3f8f3f" stroke="#0b4a10" stroke-width="0.75"/>
<rect x="91.95" y="412.6" width="4.5" height="37.2" fill="#3f8f3f" stroke="#0b4a10" stroke-width="0.75"/>
<rect x="96.95" y="395.5" width="4.5" height="54.3" fill="#3f8f3f" stroke="#0b4a10" stroke-width="0.75"/>
<rect x="101.95" y="397.6" width="4.5" height="52.2" fill="#f04848" stroke="#a00a0a" stroke-width="0.75"/>
<rect x="106.95" y="401.4" width="4.5" height="48.4" fill="#f04848" stroke="#a00a0a" stroke-width="0.75"/>
<rect x="111.95" y="389.4" width="4.5" height="60.4" fill="#3f8f3f" stroke="#0b4a10" stroke-width="0.75"/>
<rect x="116.95" y="402.5" width="4.5" height="47.3" fill="#f04848" stroke="#a00a0a" stroke-width="0.75"/>
<rect x="121.95" y="413.7" width="4.5" height="36.1" fill="#f04848" stroke="#a00a0a" stroke-width="0.75"/>
<rect x="126.95" y="408.8" width="4.5" height="41" fill="#3f8f3f" stroke="#0b4a10" stroke-width="0.75"/>
<rect x="131.95" y="391.5" width="4.5" height="58.3" fill="#3f8f3f" stroke="#0b4a10" stroke-width="0.75"/>
<rect x="136.95" y="401.4" width="4.5" height="48.4" fill="#3f8f3f" stroke="#0b4a10" stroke-width="0.75"/>
<rect x="141.95" y="415.6" width="4.5" height="34.2" fill="#f04848" stroke="#a00a0a" stroke-width="0.75"/>
<rect x="146.95" y="419.8" width="4.5" height="30" fill="#f04848" stroke="#a00a0a" stroke-width="0.75"/>
<rect x="151.95" y="395.5" width="4.5" height="54.3" fill="#3f8f3f" stroke="#0b4a10" stroke-width="0.75"/>
<rect x="156.95" y="390.4" width="4.5" height="59.4" fill="#3f8f3f" stroke="#0b4a10" stroke-width="0.75"/>
<rect x="161.95" y="391.5" width="4.5" height="58.3" fill="#f04848" stroke="#a00a0a" stroke-width="0.75"/>
<rect x="166.95" y="390.4" width="4.5" height="59.4" fill="#3f8f3f" stroke="#0b4a10" stroke-width="0.75"/>
<rect x="171.95" y="403.5" width="4.5" height="46.3" fill="#f04848" stroke="#a00a0a" stroke-width="0.75"/>
<rect x="176.95" y="395.5" width="4.5" height="54.3" fill="#3f8f3f" stroke="#0b4a10" stroke-width="0.75"/>
<rect x="181.95" y="389.4" width="4.5" height="60.4" fill="#f04848" stroke="#a00a0a" stroke-width="0.75"/>
<rect x="186.95" y="400.4" width="4.5" height="49.4" fill="#f04848" stroke="#a00a0a" stroke-width="0.75"/>
<rect x="191.95" y="418.8" width="4.5" height="31" fill="#3f8f3f" stroke="#0b4a10" stroke-width="0.75"/>
<rect x="196.95" y="406.7" width="4.5" height="43.1" fill="#3f8f3f" stroke="#0b4a10" stroke-width="0.75"/>
<rect x="201.95" y="401.4" width="4.5" height="48.4" fill="#f04848" stroke="#a00a0a" stroke-width="0.75"/>
<rect x="206.95" y="408.8" width="4.5" height="41" fill="#3f8f3f" stroke="#0b4a10" stroke-width="0.75"/>
<rect x="211.95" y="402.5" width="4.5" height="47.3" fill="#3f8f3f" stroke="#0b4a10" stroke-width="0.75"/>
<rect x="216.95" y="417.7" width="4.5" height="32.1" fill="#f04848" stroke="#a00a0a" stroke-width="0.75"/>
<rect x="221.95" y="402.5" width="4.5" height="47.3" fill="#f04848" stroke="#a00a0a" stroke-width="0.75"/>
<rect x="226.95" y="404.6" width="4.5" height="45.2" fill="#f04848" stroke="#a00a0a" stroke-width="0.75"/>
<rect x="231.95" y="400.4" width="4.5" height="49.4" fill="#3f8f3f" stroke="#0b4a10" stroke-width="0.75"/>
<rect x="236.95" y="385.6" width="4.5" height="64.2" fill="#3f8f3f" stroke="#0b4a10" stroke-width="0.75"/>
<rect x="241.95" y="408.8" width="4.5" height="41" fill="#3f8f3f" stroke="#0b4a10" stroke-width="0.75"/>
<rect x="247.95" y="400.4" width="4.5" height="49.4" fill="#3f8f3f" stroke="#0b4a10" stroke-width="0.75"/>
<rect x="252.95" y="395.5" width="4.5" height="54.3" fill="#f04848" stroke="#a00a0a" stroke-width="0.75"/>
<rect x="257.95" y="398.7" width="4.5" height="51.1" fill="#f04848" stroke="#a00a0a" stroke-width="0.75"/>
<rect x="262.95" y="386.6" width="4.5" height="63.2" fill="#3f8f3f" stroke="#0b4a10" stroke-width="0.75"/>
<rect x="267.95" y="405.7" width="4.5" height="44.1" fill="#f04848" stroke="#a00a0a" stroke-width="0.75"/>
<rect x="272.95" y="395.5" width="4.5" height="54.3" fill="#3f8f3f" stroke="#0b4a10" stroke-width="0.75"/>
<rect x="277.95" y="386.6" width="4.5" height="63.2" fill="#3f8f3f" stroke="#0b4a10" stroke-width="0.75"/>
<rect x="282.95" y="402.5" width="4.5" height="47.3" fill="#f04848" stroke="#a00a0a" stroke-width="0.75"/>
<rect x="287.95" y="414.8" width="4.5" height="35" fill="#f04848" stroke="#a00a0a" stroke-width="0.75"/>
<rect x="292.95" y="411.6" width="4.5" height="38.2" fill="#f04848" stroke="#a00a0a" stroke-width="0.75"/>
<rect x="297.95" y="416.7" width="4.5" height="33.1" fill="#3f8f3f" stroke="#0b4a10" stroke-width="0.75"/>
<rect x="302.95" y="392.5" width="4.5" height="57.3" fill="#f04848" stroke="#a00a0a" stroke-width="0.75"/>
<rect x="307.95" y="424.7" width="4.5" height="25.1" fill="#3f8f3f" stroke="#0b4a10" stroke-width="0.75"/>
<rect x="312.95" y="406.7" width="4.5" height="43.1" fill="#f04848" stroke="#a00a0a" stroke-width="0.75"/>
<rect x="317.95" y="412.6" width="4.5" height="37.2" fill="#3f8f3f" stroke="#0b4a10" stroke-width="0.75"/>
<rect x="322.95" y="402.5" width="4.5" height="47.3" fill="#3f8f3f" stroke="#0b4a10" stroke-width="0.75"/>
<rect x="327.95" y="403.5" width="4.5" height="46.3" fill="#f04848" stroke="#a00a0a" stroke-width="0.75"/>
<rect x="332.95" y="418.8" width="4.5" height="31" fill="#f04848" stroke="#a00a0a" stroke-width="0.75"/>
<rect x="337.95" y="416.7" width="4.5" height="33.1" fill="#3f8f3f" stroke="#0b4a10" stroke-width="0.75"/>
<rect x="342.95" y="408.8" width="4.5" height="41" fill="#f04848" stroke="#a00a0a" stroke-width="0.75"/>
<rect x="347.95" y="410.5" width="4.5" height="39.3" fill="#3f8f3f" stroke="#0b4a10" stroke-width="0.75"/>
<rect x="352.95" y="396.4" width="4.5" height="53.4" fill="#f04848" stroke="#a00a0a" stroke-width="0.75"/>
<rect x="357.95" y="408.5" width="4.5" height="41.3" fill="#f04848" stroke="#a00a0a" stroke-width="0.75"/>
<rect x="362.95" y="384.5" width="4.5" height="65.3" fill="#f04848" stroke="#a00a0a" stroke-width="0.75"/>
<rect x="367.95" y="376.6" width="4.5" height="73.2" fill="#3f8f3f" stroke="#0b4a10" stroke-width="0.75"/>
<rect x="372.95" y="389.4" width="4.5" height="60.4" fill="#f04848" stroke="#a00a0a" stroke-width="0.75"/>
<rect x="377.95" y="398.8" width="4.5" height="51" fill="#3f8f3f" stroke="#0b4a10" stroke-width="0.75"/>
<rect x="382.95" y="402.5" width="4.5" height="47.3" fill="#3f8f3f" stroke="#0b4a10" stroke-width="0.75"/>
<rect x="387.95" y="399.3" width="4.5" height="50.5" fill="#f04848" stroke="#a00a0a" stroke-width="0.75"/>
<rect x="392.95" y="389.4" width="4.5" height="60.4" fill="#3f8f3f" stroke="#0b4a10" stroke-width="0.75"/>
<rect x="397.95" y="402.5" width="4.5" height="47.3" fill="#f04848" stroke="#a00a0a" stroke-width="0.75"/>
<rect x="402.95" y="403.5" width="4.5" height="46.3" fill="#f04848" stroke="#a00a0a" stroke-width="0.75"/>
<rect x="408.95" y="420.8" width="4.5" height="29" fill="#f04848" stroke="#a00a0a" stroke-width="0.75"/>
<rect x="413.95" y="408.5" width="4.5" height="41.3" fill="#f04848" stroke="#a00a0a" stroke-width="0.75"/>
<rect x="418.95" y="412.4" width="4.5" height="37.4" fill="#3f8f3f" stroke="#0b4a10" stroke-width="0.75"/>
<rect x="423.95" y="399.3" width="4.5" height="50.5" fill="#f04848" stroke="#a00a0a" stroke-width="0.75"/>
<rect x="428.95" y="404.7" width="4.5" height="45.1" fill="#f04848" stroke="#a00a0a" stroke-width="0.75"/>
<rect x="433.95" y="410.4" width="4.5" height="39.4" fill="#f04848" stroke="#a00a0a" stroke-width="0.75"/>
<rect x="438.95" y="410.4" width="4.5" height="39.4" fill="#f04848" stroke="#a00a0a" stroke-width="0.75"/>
<rect x="443.95" y="401.3" width="4.5" height="48.5" fill="#3f8f3f" stroke="#0b4a10" stroke-width="0.75"/>
<rect x="448.95" y="396.4" width="4.5" height="53.4" fill="#3f8f3f" stroke="#0b4a10" stroke-width="0.75"/>
<rect x="453.95" y="413.4" width="4.5" height="36.4" fill="#f04848" stroke="#a00a0a" stroke-width="0.75"/>
<rect x="458.95" y="403.5" width="4.5" height="46.3" fill="#f04848" stroke="#a00a0a" stroke-width="0.75"/>
<rect x="463.95" y="396.4" width="4.5" height="53.4" fill="#f04848" stroke="#a00a0a" stroke-width="0.75"/>
<rect x="468.95" y="409.7" width="4.5" height="40.1" fill="#3f8f3f" stroke="#0b4a10" stroke-width="0.75"/>
<rect x="473.95" y="396.4" width="4.5" height="53.4" fill="#f04848" stroke="#a00a0a" stroke-width="0.75"/>
<rect x="478.95" y="399.8" width="4.5" height="50" fill="#f04848" stroke="#a00a0a" stroke-width="0.75"/>
<rect x="483.95" y="396.4" width="4.5" height="53.4" fill="#f04848" stroke="#a00a0a" stroke-width="0.75"/>
<rect x="488.95" y="383.8" width="4.5" height="66" fill="#3f8f3f" stroke="#0b4a10" stroke-width="0.75"/>
<rect x="493.95" y="377.6" width="4.5" height="72.2" fill="#f04848" stroke="#a00a0a" stroke-width="0.75"/>
<rect x="498.95" y="380.3" width="4.5" height="69.5" fill="#3f8f3f" stroke="#0b4a10" stroke-width="0.75"/>
<rect x="503.95" y="392.4" width="4.5" height="57.4" fill="#f04848" stroke="#a00a0a" stroke-width="0.75"/>
<rect x="508.95" y="405.5" width="4.5" height="44.3" fill="#f04848" stroke="#a00a0a" stroke-width="0.75"/>
<rect x="513.95" y="405.5" width="4.5" height="44.3" fill="#f04848" stroke="#a00a0a" stroke-width="0.75"/>
<rect x="518.95" y="422.8" width="4.5" height="27" fill="#3f8f3f" stroke="#0b4a10" stroke-width="0.75"/>
<rect x="523.95" y="385.3" width="4.5" height="64.5" fill="#f04848" stroke="#a00a0a" stroke-width="0.75"/>
<rect x="528.95" y="393.1" width="4.5" height="56.7" fill="#3f8f3f" stroke="#0b4a10" stroke-width="0.75"/>
<rect x="533.95" y="394.4" width="4.5" height="55.4" fill="#f04848" stroke="#a00a0a" stroke-width="0.75"/>
<rect x="538.95" y="382.5" width="4.5" height="67.3" fill="#f04848" stroke="#a00a0a" stroke-width="0.75"/>
<rect x="543.95" y="395.6" width="4.5" height="54.2" fill="#3f8f3f" stroke="#0b4a10" stroke-width="0.75"/>
</g>
<line x1="15.5" y1="526.32" x2="805.0" y2="526.32" stroke="#C0DAE6" stroke-width="0.7"/>
<line x1="15.5" y1="513.47" x2="805.0" y2="513.47" stroke="#C0DAE6" stroke-width="0.7"/>
<line x1="15.5" y1="500.62" x2="805.0" y2="500.62" stroke="#C0DAE6" stroke-width="0.7"/>
<line x1="15.5" y1="487.77" x2="805.0" y2="487.77" stroke="#C0DAE6" stroke-width="0.7"/>
<line x1="15.5" y1="474.92" x2="805.0" y2="474.92" stroke="#C0DAE6" stroke-width="0.7"/>
<line x1="15.5" y1="462.07" x2="805.0" y2="462.07" stroke="#C0DAE6" stroke-width="0.7"/>
<g clip-path="url(#cv)">
<rect x="15.95" y="482.6" width="4.5" height="5.17" fill="#bdadc6" stroke="#4a4458" stroke-width="0.6"/>
<rect x="20.95" y="482.6" width="4.5" height="5.17" fill="#bdadc6" stroke="#4a4458" stroke-width="0.6"/>
<rect x="25.95" y="482.6" width="4.5" height="5.17" fill="#bdadc6" stroke="#4a4458" stroke-width="0.6"/>
<rect x="30.95" y="484.25" width="4.5" height="3.53" fill="#bdadc6" stroke="#4a4458" stroke-width="0.6"/>
<rect x="35.95" y="483.78" width="4.5" height="4" fill="#bdadc6" stroke="#4a4458" stroke-width="0.6"/>
<rect x="40.95" y="483.31" width="4.5" height="4.47" fill="#bdadc6" stroke="#4a4458" stroke-width="0.6"/>
<rect x="45.95" y="481.43" width="4.5" height="6.35" fill="#bdadc6" stroke="#4a4458" stroke-width="0.6"/>
<rect x="50.95" y="479.55" width="4.5" height="8.23" fill="#bdadc6" stroke="#4a4458" stroke-width="0.6"/>
<rect x="55.95" y="480.25" width="4.5" height="7.52" fill="#bdadc6" stroke="#4a4458" stroke-width="0.6"/>
<rect x="60.95" y="480.96" width="4.5" height="6.82" fill="#bdadc6" stroke="#4a4458" stroke-width="0.6"/>
<rect x="65.95" y="481.43" width="4.5" height="6.35" fill="#bdadc6" stroke="#4a4458" stroke-width="0.6"/>
<rect x="70.95" y="482.13" width="4.5" height="5.64" fill="#bdadc6" stroke="#4a4458" stroke-width="0.6"/>
<rect x="75.95" y="481.43" width="4.5" height="6.35" fill="#bdadc6" stroke="#4a4458" stroke-width="0.6"/>
<rect x="80.95" y="479.55" width="4.5" height="8.23" fill="#bdadc6" stroke="#4a4458" stroke-width="0.6"/>
<rect x="85.95" y="477.9" width="4.5" height="9.87" fill="#bdadc6" stroke="#4a4458" stroke-width="0.6"/>
<rect x="91.95" y="477.2" width="4.5" height="10.58" fill="#bdadc6" stroke="#4a4458" stroke-width="0.6"/>
<rect x="96.95" y="477.2" width="4.5" height="10.58" fill="#bdadc6" stroke="#4a4458" stroke-width="0.6"/>
<rect x="101.95" y="479.08" width="4.5" height="8.7" fill="#bdadc6" stroke="#4a4458" stroke-width="0.6"/>
<rect x="106.95" y="480.25" width="4.5" height="7.52" fill="#bdadc6" stroke="#4a4458" stroke-width="0.6"/>
<rect x="111.95" y="481.43" width="4.5" height="6.35" fill="#bdadc6" stroke="#4a4458" stroke-width="0.6"/>
<rect x="116.95" y="482.6" width="4.5" height="5.17" fill="#bdadc6" stroke="#4a4458" stroke-width="0.6"/>
<rect x="121.95" y="484.25" width="4.5" height="3.53" fill="#bdadc6" stroke="#4a4458" stroke-width="0.6"/>
<rect x="126.95" y="485.42" width="4.5" height="2.35" fill="#bdadc6" stroke="#4a4458" stroke-width="0.6"/>
<rect x="131.95" y="485.42" width="4.5" height="2.35" fill="#bdadc6" stroke="#4a4458" stroke-width="0.6"/>
<rect x="136.95" y="484.25" width="4.5" height="3.53" fill="#bdadc6" stroke="#4a4458" stroke-width="0.6"/>
<rect x="141.95" y="485.42" width="4.5" height="2.35" fill="#bdadc6" stroke="#4a4458" stroke-width="0.6"/>
<rect x="146.95" y="486.6" width="4.5" height="1.18" fill="#bdadc6" stroke="#4a4458" stroke-width="0.6"/>
<rect x="151.95" y="485.42" width="4.5" height="2.35" fill="#bdadc6" stroke="#4a4458" stroke-width="0.6"/>
<rect x="156.95" y="485.42" width="4.5" height="2.35" fill="#bdadc6" stroke="#4a4458" stroke-width="0.6"/>
<rect x="161.95" y="487.3" width="4.5" height="0.47" fill="#bdadc6" stroke="#4a4458" stroke-width="0.6"/>
<rect x="166.95" y="487.77" width="4.5" height="1.18" fill="#bdadc6" stroke="#4a4458" stroke-width="0.6"/>
<rect x="171.95" y="487.77" width="4.5" height="0.71" fill="#bdadc6" stroke="#4a4458" stroke-width="0.6"/>
<rect x="176.95" y="487.77" width="4.5" height="1.18" fill="#bdadc6" stroke="#4a4458" stroke-width="0.6"/>
<rect x="181.95" y="487.77" width="4.5" height="1.18" fill="#bdadc6" stroke="#4a4458" stroke-width="0.6"/>
<rect x="186.95" y="487.77" width="4.5" height="1.88" fill="#bdadc6" stroke="#4a4458" stroke-width="0.6"/>
<rect x="191.95" y="487.77" width="4.5" height="1.88" fill="#bdadc6" stroke="#4a4458" stroke-width="0.6"/>
<rect x="196.95" y="487.77" width="4.5" height="2.35" fill="#bdadc6" stroke="#4a4458" stroke-width="0.6"/>
<rect x="201.95" y="487.77" width="4.5" height="4.23" fill="#bdadc6" stroke="#4a4458" stroke-width="0.6"/>
<rect x="206.95" y="487.77" width="4.5" height="5.41" fill="#bdadc6" stroke="#4a4458" stroke-width="0.6"/>
<rect x="211.95" y="487.77" width="4.5" height="4.23" fill="#bdadc6" stroke="#4a4458" stroke-width="0.6"/>
<rect x="216.95" y="487.77" width="4.5" height="4.23" fill="#bdadc6" stroke="#4a4458" stroke-width="0.6"/>
<rect x="221.95" y="487.77" width="4.5" height="5.41" fill="#bdadc6" stroke="#4a4458" stroke-width="0.6"/>
<rect x="226.95" y="487.77" width="4.5" height="6.58" fill="#bdadc6" stroke="#4a4458" stroke-width="0.6"/>
<rect x="231.95" y="487.77" width="4.5" height="6.58" fill="#bdadc6" stroke="#4a4458" stroke-width="0.6"/>
<rect x="236.95" y="487.77" width="4.5" height="5.41" fill="#bdadc6" stroke="#4a4458" stroke-width="0.6"/>
<rect x="241.95" y="487.77" width="4.5" height="3.53" fill="#bdadc6" stroke="#4a4458" stroke-width="0.6"/>
<rect x="247.95" y="487.77" width="4.5" height="1.88" fill="#bdadc6" stroke="#4a4458" stroke-width="0.6"/>
<rect x="252.95" y="487.77" width="4.5" height="2.35" fill="#bdadc6" stroke="#4a4458" stroke-width="0.6"/>
<rect x="257.95" y="487.77" width="4.5" height="3.53" fill="#bdadc6" stroke="#4a4458" stroke-width="0.6"/>
<rect x="262.95" y="487.77" width="4.5" height="4.23" fill="#bdadc6" stroke="#4a4458" stroke-width="0.6"/>
<rect x="267.95" y="487.77" width="4.5" height="4.23" fill="#bdadc6" stroke="#4a4458" stroke-width="0.6"/>
<rect x="272.95" y="487.77" width="4.5" height="2.35" fill="#bdadc6" stroke="#4a4458" stroke-width="0.6"/>
<rect x="277.95" y="487.77" width="4.5" height="1.18" fill="#bdadc6" stroke="#4a4458" stroke-width="0.6"/>
<rect x="287.95" y="487.77" width="4.5" height="0.47" fill="#bdadc6" stroke="#4a4458" stroke-width="0.6"/>
<rect x="292.95" y="487.77" width="4.5" height="0.94" fill="#bdadc6" stroke="#4a4458" stroke-width="0.6"/>
<rect x="297.95" y="487.77" width="4.5" height="0.94" fill="#bdadc6" stroke="#4a4458" stroke-width="0.6"/>
<rect x="302.95" y="487.77" width="4.5" height="0.94" fill="#bdadc6" stroke="#4a4458" stroke-width="0.6"/>
<rect x="307.95" y="487.77" width="4.5" height="0.71" fill="#bdadc6" stroke="#4a4458" stroke-width="0.6"/>
<rect x="312.95" y="487.77" width="4.5" height="1.18" fill="#bdadc6" stroke="#4a4458" stroke-width="0.6"/>
<rect x="317.95" y="487.77" width="4.5" height="0.94" fill="#bdadc6" stroke="#4a4458" stroke-width="0.6"/>
<rect x="327.95" y="487.77" width="4.5" height="0.47" fill="#bdadc6" stroke="#4a4458" stroke-width="0.6"/>
<rect x="332.95" y="487.77" width="4.5" height="1.18" fill="#bdadc6" stroke="#4a4458" stroke-width="0.6"/>
<rect x="337.95" y="487.77" width="4.5" height="1.88" fill="#bdadc6" stroke="#4a4458" stroke-width="0.6"/>
<rect x="342.95" y="487.77" width="4.5" height="3.29" fill="#bdadc6" stroke="#4a4458" stroke-width="0.6"/>
<rect x="347.95" y="487.77" width="4.5" height="3.29" fill="#bdadc6" stroke="#4a4458" stroke-width="0.6"/>
<rect x="352.95" y="487.77" width="4.5" height="4.94" fill="#bdadc6" stroke="#4a4458" stroke-width="0.6"/>
<rect x="357.95" y="487.77" width="4.5" height="6.58" fill="#bdadc6" stroke="#4a4458" stroke-width="0.6"/>
<rect x="362.95" y="487.77" width="4.5" height="10.11" fill="#bdadc6" stroke="#4a4458" stroke-width="0.6"/>
<rect x="367.95" y="487.77" width="4.5" height="11.99" fill="#bdadc6" stroke="#4a4458" stroke-width="0.6"/>
<rect x="372.95" y="487.77" width="4.5" height="12.46" fill="#bdadc6" stroke="#4a4458" stroke-width="0.6"/>
<rect x="377.95" y="487.77" width="4.5" height="11.75" fill="#bdadc6" stroke="#4a4458" stroke-width="0.6"/>
<rect x="382.95" y="487.77" width="4.5" height="10.81" fill="#bdadc6" stroke="#4a4458" stroke-width="0.6"/>
<rect x="387.95" y="487.77" width="4.5" height="10.11" fill="#bdadc6" stroke="#4a4458" stroke-width="0.6"/>
<rect x="392.95" y="487.77" width="4.5" height="7.29" fill="#bdadc6" stroke="#4a4458" stroke-width="0.6"/>
<rect x="397.95" y="487.77" width="4.5" height="7.29" fill="#bdadc6" stroke="#4a4458" stroke-width="0.6"/>
<rect x="402.95" y="487.77" width="4.5" height="7.29" fill="#bdadc6" stroke="#4a4458" stroke-width="0.6"/>
<rect x="408.95" y="487.77" width="4.5" height="6.58" fill="#bdadc6" stroke="#4a4458" stroke-width="0.6"/>
<rect x="413.95" y="487.77" width="4.5" height="5.88" fill="#bdadc6" stroke="#4a4458" stroke-width="0.6"/>
<rect x="418.95" y="487.77" width="4.5" height="4.94" fill="#bdadc6" stroke="#4a4458" stroke-width="0.6"/>
<rect x="423.95" y="487.77" width="4.5" height="4.94" fill="#bdadc6" stroke="#4a4458" stroke-width="0.6"/>
<rect x="428.95" y="487.77" width="4.5" height="4.94" fill="#bdadc6" stroke="#4a4458" stroke-width="0.6"/>
<rect x="433.95" y="487.77" width="4.5" height="4.94" fill="#bdadc6" stroke="#4a4458" stroke-width="0.6"/>
<rect x="438.95" y="487.77" width="4.5" height="5.88" fill="#bdadc6" stroke="#4a4458" stroke-width="0.6"/>
<rect x="443.95" y="487.77" width="4.5" height="4.94" fill="#bdadc6" stroke="#4a4458" stroke-width="0.6"/>
<rect x="448.95" y="487.77" width="4.5" height="3.06" fill="#bdadc6" stroke="#4a4458" stroke-width="0.6"/>
<rect x="458.95" y="487.77" width="4.5" height="1.41" fill="#bdadc6" stroke="#4a4458" stroke-width="0.6"/>
<rect x="463.95" y="487.77" width="4.5" height="2.59" fill="#bdadc6" stroke="#4a4458" stroke-width="0.6"/>
<rect x="468.95" y="487.77" width="4.5" height="1.18" fill="#bdadc6" stroke="#4a4458" stroke-width="0.6"/>
<rect x="473.95" y="487.77" width="4.5" height="2.59" fill="#bdadc6" stroke="#4a4458" stroke-width="0.6"/>
<rect x="478.95" y="487.77" width="4.5" height="1.88" fill="#bdadc6" stroke="#4a4458" stroke-width="0.6"/>
<rect x="483.95" y="487.77" width="4.5" height="2.59" fill="#bdadc6" stroke="#4a4458" stroke-width="0.6"/>
<rect x="488.95" y="487.77" width="4.5" height="1.41" fill="#bdadc6" stroke="#4a4458" stroke-width="0.6"/>
<rect x="493.95" y="487.77" width="4.5" height="1.88" fill="#bdadc6" stroke="#4a4458" stroke-width="0.6"/>
<rect x="498.95" y="487.77" width="4.5" height="1.88" fill="#bdadc6" stroke="#4a4458" stroke-width="0.6"/>
<rect x="503.95" y="487.77" width="4.5" height="1.88" fill="#bdadc6" stroke="#4a4458" stroke-width="0.6"/>
<rect x="508.95" y="487.77" width="4.5" height="1.88" fill="#bdadc6" stroke="#4a4458" stroke-width="0.6"/>
<rect x="513.95" y="487.77" width="4.5" height="1.88" fill="#bdadc6" stroke="#4a4458" stroke-width="0.6"/>
<rect x="518.95" y="487.77" width="4.5" height="0.71" fill="#bdadc6" stroke="#4a4458" stroke-width="0.6"/>
<rect x="523.95" y="487.77" width="4.5" height="0.47" fill="#bdadc6" stroke="#4a4458" stroke-width="0.6"/>
<rect x="528.95" y="487.77" width="4.5" height="0.47" fill="#bdadc6" stroke="#4a4458" stroke-width="0.6"/>
<rect x="533.95" y="487.77" width="4.5" height="0.47" fill="#bdadc6" stroke="#4a4458" stroke-width="0.6"/>
<rect x="538.95" y="487.77" width="4.5" height="1.88" fill="#bdadc6" stroke="#4a4458" stroke-width="0.6"/>
<rect x="543.95" y="487.77" width="4.5" height="1.41" fill="#bdadc6" stroke="#4a4458" stroke-width="0.6"/>
</g>
<line x1="15.5" y1="487.77" x2="548.7" y2="487.77" stroke="#514a5e" stroke-width="1"/>
<path d="M16.23 499.76 L27.28 496.7 L37.85 493.88 L47.25 490.83 L56.65 487.3 L68.4 483.78 L78.98 480.25 L88.38 476.26 L98.49 470.85 L108.36 467.33 L118.93 463.8 L128.8 462.16 L138.91 460.98 L149.02 459.81 L158.89 459.1 L168.99 459.1 L178.86 459.81 L189.44 460.98 L199.31 462.63 L209.41 464.98 L219.98 467.8 L229.38 470.85 L238.78 473.2 L249.35 474.38 L259.93 475.55 L269.8 477.9 L279.91 479.55 L290.48 479.78 L299.88 480.25 L310.46 480.72 L319.86 480.96 L330.43 480.96 L341.01 481.43 L350.41 483.78 L360.99 487.3 L370.39 492 L380.96 497.88 L384.7 500.23 L389.87 502.58 L394.81 504.46 L399.98 506.1 L404.68 507.98 L409.85 509.63 L415.25 510.8 L419.95 511.98 L424.65 513.16 L429.82 514.8 L435.23 516.21 L439.93 517.15 L445.1 517.86 L450.51 518.56 L455.21 518.56 L459.91 518.56 L465.08 519.03 L470.48 519.5 L475.18 519.74 L480.35 520.68 L485.29 521.38 L490.46 521.38 L495.16 522.09 L500.33 522.56 L505.26 523.03 L510.43 523.26 L515.14 523.73 L520.31 523.73 L525.24 523.73 L530.41 523.73 L535.11 523.73 L540.28 524.2 L545.22 524.44" fill="none" stroke="#b0184a" stroke-width="1.1" stroke-linejoin="round"/>
<path d="M16.23 494.82 L22.58 492.71 L27.28 491.3 L33.15 492 L37.85 489.65 L42.55 487.77 L47.25 484.95 L51.95 480.25 L56.65 480.72 L62.53 479.55 L68.4 478.37 L73.57 476.73 L78.98 473.67 L83.68 470.15 L88.38 466.15 L93.55 463.1 L98.49 460.28 L103.66 460.28 L108.36 460.28 L113.53 459.1 L118.93 459.1 L123.63 459.81 L128.8 460.28 L133.74 460.28 L138.91 458.63 L143.61 458.4 L149.02 458.4 L154.19 457.22 L158.89 456.28 L164.06 458.63 L168.99 459.57 L174.16 461.45 L178.86 460.28 L184.03 461.45 L189.44 463.33 L194.14 464.51 L199.31 466.15 L204.24 468.5 L209.41 470.15 L214.1 470.15 L219.98 472.03 L224.68 474.38 L229.38 476.73 L234.08 478.61 L238.78 477.9 L244.65 477.2 L249.35 476.26 L254.05 477.2 L259.93 479.08 L264.63 480.72 L269.8 482.6 L275.21 480.96 L279.91 479.55 L284.61 479.78 L290.48 480.25 L295.18 480.25 L299.88 481.43 L305.76 480.96 L310.46 480.96 L315.16 482.13 L319.86 481.9 L325.73 480.96 L330.43 480.96 L335.14 482.13 L341.01 483.31 L345.71 485.42 L350.41 487.3 L355.11 489.65 L360.99 493.88 L365.69 498.58 L370.39 502.11 L375.09 505.63 L380 508.92 L384.7 510.8 L389.87 512.69 L394.81 511.51 L399.98 512.69 L404.68 514.33 L409.85 515.51 L415.25 516.21 L419.95 516.21 L424.65 517.39 L429.82 518.56 L435.23 520.21 L439.93 521.38 L445.1 521.38 L450.51 520.21 L455.21 519.03 L459.91 519.5 L465.08 520.91 L470.48 520.91 L475.18 520.91 L480.35 522.09 L485.29 523.03 L490.46 522.09 L495.16 523.03 L500.33 523.73 L505.26 524.44 L510.43 524.44 L515.14 524.44 L520.31 523.73 L525.24 523.26 L530.41 523.26 L535.11 523.26 L540.28 525.38 L545.22 524.91" fill="none" stroke="#0a0a0a" stroke-width="1.8" stroke-linejoin="round"/>
<line x1="15.5" y1="609.55" x2="805.0" y2="609.55" stroke="#CBE2EC" stroke-width="0.7"/>
<line x1="15.5" y1="602.5" x2="805.0" y2="602.5" stroke="#CBE2EC" stroke-width="0.7"/>
<line x1="15.5" y1="588.4" x2="805.0" y2="588.4" stroke="#CBE2EC" stroke-width="0.7"/>
<line x1="15.5" y1="581.35" x2="805.0" y2="581.35" stroke="#CBE2EC" stroke-width="0.7"/>
<line x1="15.5" y1="567.25" x2="805.0" y2="567.25" stroke="#CBE2EC" stroke-width="0.7"/>
<line x1="15.5" y1="560.2" x2="805.0" y2="560.2" stroke="#CBE2EC" stroke-width="0.7"/>
<line x1="15.5" y1="546.1" x2="805.0" y2="546.1" stroke="#CBE2EC" stroke-width="0.7"/>
<line x1="15.5" y1="539.05" x2="805.0" y2="539.05" stroke="#CBE2EC" stroke-width="0.7"/>
<line x1="15.5" y1="553.5" x2="805.0" y2="553.5" stroke="#5c5c66" stroke-width="1.0"/>
<line x1="15.5" y1="595.5" x2="805.0" y2="595.5" stroke="#5c5c66" stroke-width="1.0"/>
<line x1="15.5" y1="574.5" x2="805.0" y2="574.5" stroke="#7a7a84" stroke-width="1.0" stroke-dasharray="7 3 2 3"/>
<path d="M16.23 569.83 L22.58 562.08 L27.28 559.73 L32.68 563.25 L37.85 565.6 L42.55 566.78 L47.25 562.78 L51.95 557.38 L56.65 552.21 L62.53 553.15 L68.4 557.38 L72.63 560.43 L77.8 558.55 L82.51 555.03 L87.68 549.86 L93.08 546.8 L98.49 544.92 L103.66 545.63 L108.83 547.98 L113.53 550.8 L118.93 551.5 L123.63 551.5 L128.8 552.21 L133.74 552.21 L138.91 550.33 L143.61 547.51 L149.02 545.16 L153.72 545.16 L158.89 546.8 L163.59 551.5 L168.99 559.02 L173.69 566.78 L178.86 569.13 L183.56 567.95 L188.26 564.43 L193.43 565.13 L198.84 566.07 L204.24 571.48 L209.41 578.53 L213.63 586.05 L218.8 586.05 L223.5 584.4 L228.67 586.75 L233.61 591.92 L238.78 591.45 L243.95 582.76 L249.35 569.13 L254.52 562.08 L259.46 562.55 L264.63 569.13 L269.8 577.35 L274.74 578.53 L279.91 571.48 L284.61 563.25 L289.78 557.38 L294.71 557.38 L299.88 561.37 L304.58 564.9 L309.75 564.9 L314.69 564.9 L319.86 563.96 L325.03 562.55 L329.73 560.2 L334.67 560.2 L339.84 565.6 L345.01 576.18 L349.94 585.58 L355.11 592.63 L360.28 597.33 L364.98 602.03 L369.92 603.21 L375.09 603.21 L380 599.68 L384.7 597.8 L389.87 596.86 L394.81 596.16 L399.98 596.16 L404.68 597.33 L409.85 600.15 L415.25 603.68 L419.95 605.56 L425.12 606.03 L430.06 605.56 L435.23 605.09 L440.16 605.09 L445.33 604.85 L450.27 602.03 L455.21 597.33 L460.38 594.51 L465.31 596.16 L470.48 600.39 L475.42 603.21 L480.59 603.91 L485.52 603.91 L490.46 603.21 L495.63 603.21 L500.56 602.03 L505.73 602.5 L510.67 602.74 L515.61 603.68 L520.78 603.21 L525.71 603.21 L530.88 603.21 L535.82 603.91 L540.99 604.38 L545.22 603.68" fill="none" stroke="#b0184a" stroke-width="1.1" stroke-linejoin="round"/>
<path d="M16.23 562.78 L19.05 559.73 L22.58 558.55 L27.28 560.9 L32.68 569.13 L37.85 566.07 L42.55 565.13 L47.25 556.2 L51.95 549.62 L56.65 551.03 L62.53 558.55 L68.4 562.08 L72.63 560.9 L77.8 553.85 L82.51 550.33 L87.68 545.16 L93.08 544.92 L98.49 544.45 L103.66 547.98 L108.83 551.5 L113.53 552.21 L118.93 551.5 L123.63 551.5 L128.8 553.15 L133.74 551.5 L138.91 546.33 L143.61 544.45 L149.02 545.16 L153.72 545.63 L158.89 550.33 L163.59 558.55 L168.99 567.95 L173.69 573.36 L178.86 566.31 L183.56 564.43 L188.26 563.25 L193.43 567.95 L198.84 566.78 L204.24 578.53 L209.41 588.4 L213.63 589.1 L218.8 581.58 L223.5 582.76 L228.67 594.98 L233.61 598.04 L238.78 582.05 L243.95 566.78 L249.35 557.38 L254.52 559.02 L259.46 569.13 L264.63 578.53 L269.8 584.4 L274.74 573.83 L279.91 563.25 L284.61 553.38 L289.78 555.73 L294.71 562.78 L299.88 565.13 L304.58 566.07 L309.75 563.72 L314.69 565.13 L319.86 563.25 L325.03 559.73 L329.73 557.38 L334.67 563.25 L339.84 575 L345.01 588.63 L349.94 591.45 L355.11 598.51 L360.28 599.68 L364.98 607.2 L369.92 603.21 L375.09 600.39 L380 597.8 L384.7 597.33 L389.87 596.86 L394.81 595.45 L399.98 596.86 L404.68 599.68 L409.85 603.21 L415.25 606.03 L419.95 605.56 L425.12 606.03 L430.06 605.09 L435.23 605.09 L440.16 605.09 L445.33 604.38 L450.27 597.33 L455.21 591.92 L460.38 594.51 L465.31 601.33 L470.48 604.38 L475.42 603.91 L480.59 603.21 L485.52 604.85 L490.46 602.5 L495.63 602.5 L500.56 600.86 L505.73 603.91 L510.67 603.21 L515.61 603.91 L520.78 602.5 L525.71 603.91 L530.88 603.21 L535.82 604.85 L540.99 604.38 L545.22 601.56" fill="none" stroke="#0a0a0a" stroke-width="1.8" stroke-linejoin="round"/>
<rect x="15.5" y="30.5" width="789.5" height="83.0" fill="none" stroke="#55555f" stroke-width="1"/>
<rect x="15.5" y="113.5" width="789.5" height="238.0" fill="none" stroke="#55555f" stroke-width="1"/>
<rect x="15.5" y="366.5" width="789.5" height="83.0" fill="none" stroke="#55555f" stroke-width="1"/>
<rect x="15.5" y="449.5" width="789.5" height="83.0" fill="none" stroke="#55555f" stroke-width="1"/>
<rect x="15.5" y="532.5" width="789.5" height="83.0" fill="none" stroke="#55555f" stroke-width="1"/>
<line x1="17.7" y1="352" x2="17.7" y2="353.6" stroke="#94889f" stroke-width="0.8"/>
<line x1="17.7" y1="364.4" x2="17.7" y2="366" stroke="#94889f" stroke-width="0.8"/>
<line x1="22.7" y1="352" x2="22.7" y2="353.6" stroke="#94889f" stroke-width="0.8"/>
<line x1="22.7" y1="364.4" x2="22.7" y2="366" stroke="#94889f" stroke-width="0.8"/>
<line x1="27.7" y1="352" x2="27.7" y2="353.6" stroke="#94889f" stroke-width="0.8"/>
<line x1="27.7" y1="364.4" x2="27.7" y2="366" stroke="#94889f" stroke-width="0.8"/>
<line x1="32.7" y1="352" x2="32.7" y2="353.6" stroke="#94889f" stroke-width="0.8"/>
<line x1="32.7" y1="364.4" x2="32.7" y2="366" stroke="#94889f" stroke-width="0.8"/>
<line x1="37.7" y1="352" x2="37.7" y2="353.6" stroke="#94889f" stroke-width="0.8"/>
<line x1="37.7" y1="364.4" x2="37.7" y2="366" stroke="#94889f" stroke-width="0.8"/>
<line x1="42.7" y1="352" x2="42.7" y2="353.6" stroke="#94889f" stroke-width="0.8"/>
<line x1="42.7" y1="364.4" x2="42.7" y2="366" stroke="#94889f" stroke-width="0.8"/>
<line x1="47.7" y1="352" x2="47.7" y2="353.6" stroke="#94889f" stroke-width="0.8"/>
<line x1="47.7" y1="364.4" x2="47.7" y2="366" stroke="#94889f" stroke-width="0.8"/>
<line x1="52.7" y1="352" x2="52.7" y2="353.6" stroke="#94889f" stroke-width="0.8"/>
<line x1="52.7" y1="364.4" x2="52.7" y2="366" stroke="#94889f" stroke-width="0.8"/>
<line x1="57.7" y1="352" x2="57.7" y2="353.6" stroke="#94889f" stroke-width="0.8"/>
<line x1="57.7" y1="364.4" x2="57.7" y2="366" stroke="#94889f" stroke-width="0.8"/>
<line x1="62.7" y1="352" x2="62.7" y2="353.6" stroke="#94889f" stroke-width="0.8"/>
<line x1="62.7" y1="364.4" x2="62.7" y2="366" stroke="#94889f" stroke-width="0.8"/>
<line x1="67.7" y1="352" x2="67.7" y2="353.6" stroke="#94889f" stroke-width="0.8"/>
<line x1="67.7" y1="364.4" x2="67.7" y2="366" stroke="#94889f" stroke-width="0.8"/>
<line x1="72.7" y1="352" x2="72.7" y2="353.6" stroke="#94889f" stroke-width="0.8"/>
<line x1="72.7" y1="364.4" x2="72.7" y2="366" stroke="#94889f" stroke-width="0.8"/>
<line x1="77.7" y1="352" x2="77.7" y2="353.6" stroke="#94889f" stroke-width="0.8"/>
<line x1="77.7" y1="364.4" x2="77.7" y2="366" stroke="#94889f" stroke-width="0.8"/>
<line x1="82.7" y1="352" x2="82.7" y2="353.6" stroke="#94889f" stroke-width="0.8"/>
<line x1="82.7" y1="364.4" x2="82.7" y2="366" stroke="#94889f" stroke-width="0.8"/>
<line x1="87.7" y1="352" x2="87.7" y2="353.6" stroke="#94889f" stroke-width="0.8"/>
<line x1="87.7" y1="364.4" x2="87.7" y2="366" stroke="#94889f" stroke-width="0.8"/>
<line x1="93.7" y1="352" x2="93.7" y2="353.6" stroke="#94889f" stroke-width="0.8"/>
<line x1="93.7" y1="364.4" x2="93.7" y2="366" stroke="#94889f" stroke-width="0.8"/>
<line x1="98.7" y1="352" x2="98.7" y2="353.6" stroke="#94889f" stroke-width="0.8"/>
<line x1="98.7" y1="364.4" x2="98.7" y2="366" stroke="#94889f" stroke-width="0.8"/>
<line x1="103.7" y1="352" x2="103.7" y2="353.6" stroke="#94889f" stroke-width="0.8"/>
<line x1="103.7" y1="364.4" x2="103.7" y2="366" stroke="#94889f" stroke-width="0.8"/>
<line x1="108.7" y1="352" x2="108.7" y2="353.6" stroke="#94889f" stroke-width="0.8"/>
<line x1="108.7" y1="364.4" x2="108.7" y2="366" stroke="#94889f" stroke-width="0.8"/>
<line x1="113.7" y1="352" x2="113.7" y2="353.6" stroke="#94889f" stroke-width="0.8"/>
<line x1="113.7" y1="364.4" x2="113.7" y2="366" stroke="#94889f" stroke-width="0.8"/>
<line x1="118.7" y1="352" x2="118.7" y2="353.6" stroke="#94889f" stroke-width="0.8"/>
<line x1="118.7" y1="364.4" x2="118.7" y2="366" stroke="#94889f" stroke-width="0.8"/>
<line x1="123.7" y1="352" x2="123.7" y2="353.6" stroke="#94889f" stroke-width="0.8"/>
<line x1="123.7" y1="364.4" x2="123.7" y2="366" stroke="#94889f" stroke-width="0.8"/>
<line x1="128.7" y1="352" x2="128.7" y2="353.6" stroke="#94889f" stroke-width="0.8"/>
<line x1="128.7" y1="364.4" x2="128.7" y2="366" stroke="#94889f" stroke-width="0.8"/>
<line x1="133.7" y1="352" x2="133.7" y2="353.6" stroke="#94889f" stroke-width="0.8"/>
<line x1="133.7" y1="364.4" x2="133.7" y2="366" stroke="#94889f" stroke-width="0.8"/>
<line x1="138.7" y1="352" x2="138.7" y2="353.6" stroke="#94889f" stroke-width="0.8"/>
<line x1="138.7" y1="364.4" x2="138.7" y2="366" stroke="#94889f" stroke-width="0.8"/>
<line x1="143.7" y1="352" x2="143.7" y2="353.6" stroke="#94889f" stroke-width="0.8"/>
<line x1="143.7" y1="364.4" x2="143.7" y2="366" stroke="#94889f" stroke-width="0.8"/>
<line x1="148.7" y1="352" x2="148.7" y2="353.6" stroke="#94889f" stroke-width="0.8"/>
<line x1="148.7" y1="364.4" x2="148.7" y2="366" stroke="#94889f" stroke-width="0.8"/>
<line x1="153.7" y1="352" x2="153.7" y2="353.6" stroke="#94889f" stroke-width="0.8"/>
<line x1="153.7" y1="364.4" x2="153.7" y2="366" stroke="#94889f" stroke-width="0.8"/>
<line x1="158.7" y1="352" x2="158.7" y2="353.6" stroke="#94889f" stroke-width="0.8"/>
<line x1="158.7" y1="364.4" x2="158.7" y2="366" stroke="#94889f" stroke-width="0.8"/>
<line x1="163.7" y1="352" x2="163.7" y2="353.6" stroke="#94889f" stroke-width="0.8"/>
<line x1="163.7" y1="364.4" x2="163.7" y2="366" stroke="#94889f" stroke-width="0.8"/>
<line x1="168.7" y1="352" x2="168.7" y2="353.6" stroke="#94889f" stroke-width="0.8"/>
<line x1="168.7" y1="364.4" x2="168.7" y2="366" stroke="#94889f" stroke-width="0.8"/>
<line x1="173.7" y1="352" x2="173.7" y2="353.6" stroke="#94889f" stroke-width="0.8"/>
<line x1="173.7" y1="364.4" x2="173.7" y2="366" stroke="#94889f" stroke-width="0.8"/>
<line x1="178.7" y1="352" x2="178.7" y2="353.6" stroke="#94889f" stroke-width="0.8"/>
<line x1="178.7" y1="364.4" x2="178.7" y2="366" stroke="#94889f" stroke-width="0.8"/>
<line x1="183.7" y1="352" x2="183.7" y2="353.6" stroke="#94889f" stroke-width="0.8"/>
<line x1="183.7" y1="364.4" x2="183.7" y2="366" stroke="#94889f" stroke-width="0.8"/>
<line x1="188.7" y1="352" x2="188.7" y2="353.6" stroke="#94889f" stroke-width="0.8"/>
<line x1="188.7" y1="364.4" x2="188.7" y2="366" stroke="#94889f" stroke-width="0.8"/>
<line x1="193.7" y1="352" x2="193.7" y2="353.6" stroke="#94889f" stroke-width="0.8"/>
<line x1="193.7" y1="364.4" x2="193.7" y2="366" stroke="#94889f" stroke-width="0.8"/>
<line x1="198.7" y1="352" x2="198.7" y2="353.6" stroke="#94889f" stroke-width="0.8"/>
<line x1="198.7" y1="364.4" x2="198.7" y2="366" stroke="#94889f" stroke-width="0.8"/>
<line x1="203.7" y1="352" x2="203.7" y2="353.6" stroke="#94889f" stroke-width="0.8"/>
<line x1="203.7" y1="364.4" x2="203.7" y2="366" stroke="#94889f" stroke-width="0.8"/>
<line x1="208.7" y1="352" x2="208.7" y2="353.6" stroke="#94889f" stroke-width="0.8"/>
<line x1="208.7" y1="364.4" x2="208.7" y2="366" stroke="#94889f" stroke-width="0.8"/>
<line x1="213.7" y1="352" x2="213.7" y2="353.6" stroke="#94889f" stroke-width="0.8"/>
<line x1="213.7" y1="364.4" x2="213.7" y2="366" stroke="#94889f" stroke-width="0.8"/>
<line x1="218.7" y1="352" x2="218.7" y2="353.6" stroke="#94889f" stroke-width="0.8"/>
<line x1="218.7" y1="364.4" x2="218.7" y2="366" stroke="#94889f" stroke-width="0.8"/>
<line x1="223.7" y1="352" x2="223.7" y2="353.6" stroke="#94889f" stroke-width="0.8"/>
<line x1="223.7" y1="364.4" x2="223.7" y2="366" stroke="#94889f" stroke-width="0.8"/>
<line x1="228.7" y1="352" x2="228.7" y2="353.6" stroke="#94889f" stroke-width="0.8"/>
<line x1="228.7" y1="364.4" x2="228.7" y2="366" stroke="#94889f" stroke-width="0.8"/>
<line x1="233.7" y1="352" x2="233.7" y2="353.6" stroke="#94889f" stroke-width="0.8"/>
<line x1="233.7" y1="364.4" x2="233.7" y2="366" stroke="#94889f" stroke-width="0.8"/>
<line x1="238.7" y1="352" x2="238.7" y2="353.6" stroke="#94889f" stroke-width="0.8"/>
<line x1="238.7" y1="364.4" x2="238.7" y2="366" stroke="#94889f" stroke-width="0.8"/>
<line x1="243.7" y1="352" x2="243.7" y2="353.6" stroke="#94889f" stroke-width="0.8"/>
<line x1="243.7" y1="364.4" x2="243.7" y2="366" stroke="#94889f" stroke-width="0.8"/>
<line x1="249.7" y1="352" x2="249.7" y2="353.6" stroke="#94889f" stroke-width="0.8"/>
<line x1="249.7" y1="364.4" x2="249.7" y2="366" stroke="#94889f" stroke-width="0.8"/>
<line x1="254.7" y1="352" x2="254.7" y2="353.6" stroke="#94889f" stroke-width="0.8"/>
<line x1="254.7" y1="364.4" x2="254.7" y2="366" stroke="#94889f" stroke-width="0.8"/>
<line x1="259.7" y1="352" x2="259.7" y2="353.6" stroke="#94889f" stroke-width="0.8"/>
<line x1="259.7" y1="364.4" x2="259.7" y2="366" stroke="#94889f" stroke-width="0.8"/>
<line x1="264.7" y1="352" x2="264.7" y2="353.6" stroke="#94889f" stroke-width="0.8"/>
<line x1="264.7" y1="364.4" x2="264.7" y2="366" stroke="#94889f" stroke-width="0.8"/>
<line x1="269.7" y1="352" x2="269.7" y2="353.6" stroke="#94889f" stroke-width="0.8"/>
<line x1="269.7" y1="364.4" x2="269.7" y2="366" stroke="#94889f" stroke-width="0.8"/>
<line x1="274.7" y1="352" x2="274.7" y2="353.6" stroke="#94889f" stroke-width="0.8"/>
<line x1="274.7" y1="364.4" x2="274.7" y2="366" stroke="#94889f" stroke-width="0.8"/>
<line x1="279.7" y1="352" x2="279.7" y2="353.6" stroke="#94889f" stroke-width="0.8"/>
<line x1="279.7" y1="364.4" x2="279.7" y2="366" stroke="#94889f" stroke-width="0.8"/>
<line x1="284.7" y1="352" x2="284.7" y2="353.6" stroke="#94889f" stroke-width="0.8"/>
<line x1="284.7" y1="364.4" x2="284.7" y2="366" stroke="#94889f" stroke-width="0.8"/>
<line x1="289.7" y1="352" x2="289.7" y2="353.6" stroke="#94889f" stroke-width="0.8"/>
<line x1="289.7" y1="364.4" x2="289.7" y2="366" stroke="#94889f" stroke-width="0.8"/>
<line x1="294.7" y1="352" x2="294.7" y2="353.6" stroke="#94889f" stroke-width="0.8"/>
<line x1="294.7" y1="364.4" x2="294.7" y2="366" stroke="#94889f" stroke-width="0.8"/>
<line x1="299.7" y1="352" x2="299.7" y2="353.6" stroke="#94889f" stroke-width="0.8"/>
<line x1="299.7" y1="364.4" x2="299.7" y2="366" stroke="#94889f" stroke-width="0.8"/>
<line x1="304.7" y1="352" x2="304.7" y2="353.6" stroke="#94889f" stroke-width="0.8"/>
<line x1="304.7" y1="364.4" x2="304.7" y2="366" stroke="#94889f" stroke-width="0.8"/>
<line x1="309.7" y1="352" x2="309.7" y2="353.6" stroke="#94889f" stroke-width="0.8"/>
<line x1="309.7" y1="364.4" x2="309.7" y2="366" stroke="#94889f" stroke-width="0.8"/>
<line x1="314.7" y1="352" x2="314.7" y2="353.6" stroke="#94889f" stroke-width="0.8"/>
<line x1="314.7" y1="364.4" x2="314.7" y2="366" stroke="#94889f" stroke-width="0.8"/>
<line x1="319.7" y1="352" x2="319.7" y2="353.6" stroke="#94889f" stroke-width="0.8"/>
<line x1="319.7" y1="364.4" x2="319.7" y2="366" stroke="#94889f" stroke-width="0.8"/>
<line x1="324.7" y1="352" x2="324.7" y2="353.6" stroke="#94889f" stroke-width="0.8"/>
<line x1="324.7" y1="364.4" x2="324.7" y2="366" stroke="#94889f" stroke-width="0.8"/>
<line x1="329.7" y1="352" x2="329.7" y2="353.6" stroke="#94889f" stroke-width="0.8"/>
<line x1="329.7" y1="364.4" x2="329.7" y2="366" stroke="#94889f" stroke-width="0.8"/>
<line x1="334.7" y1="352" x2="334.7" y2="353.6" stroke="#94889f" stroke-width="0.8"/>
<line x1="334.7" y1="364.4" x2="334.7" y2="366" stroke="#94889f" stroke-width="0.8"/>
<line x1="339.7" y1="352" x2="339.7" y2="353.6" stroke="#94889f" stroke-width="0.8"/>
<line x1="339.7" y1="364.4" x2="339.7" y2="366" stroke="#94889f" stroke-width="0.8"/>
<line x1="344.7" y1="352" x2="344.7" y2="353.6" stroke="#94889f" stroke-width="0.8"/>
<line x1="344.7" y1="364.4" x2="344.7" y2="366" stroke="#94889f" stroke-width="0.8"/>
<line x1="349.7" y1="352" x2="349.7" y2="353.6" stroke="#94889f" stroke-width="0.8"/>
<line x1="349.7" y1="364.4" x2="349.7" y2="366" stroke="#94889f" stroke-width="0.8"/>
<line x1="354.7" y1="352" x2="354.7" y2="353.6" stroke="#94889f" stroke-width="0.8"/>
<line x1="354.7" y1="364.4" x2="354.7" y2="366" stroke="#94889f" stroke-width="0.8"/>
<line x1="359.7" y1="352" x2="359.7" y2="353.6" stroke="#94889f" stroke-width="0.8"/>
<line x1="359.7" y1="364.4" x2="359.7" y2="366" stroke="#94889f" stroke-width="0.8"/>
<line x1="364.7" y1="352" x2="364.7" y2="353.6" stroke="#94889f" stroke-width="0.8"/>
<line x1="364.7" y1="364.4" x2="364.7" y2="366" stroke="#94889f" stroke-width="0.8"/>
<line x1="369.7" y1="352" x2="369.7" y2="353.6" stroke="#94889f" stroke-width="0.8"/>
<line x1="369.7" y1="364.4" x2="369.7" y2="366" stroke="#94889f" stroke-width="0.8"/>
<line x1="374.7" y1="352" x2="374.7" y2="353.6" stroke="#94889f" stroke-width="0.8"/>
<line x1="374.7" y1="364.4" x2="374.7" y2="366" stroke="#94889f" stroke-width="0.8"/>
<line x1="379.7" y1="352" x2="379.7" y2="353.6" stroke="#94889f" stroke-width="0.8"/>
<line x1="379.7" y1="364.4" x2="379.7" y2="366" stroke="#94889f" stroke-width="0.8"/>
<line x1="384.7" y1="352" x2="384.7" y2="353.6" stroke="#94889f" stroke-width="0.8"/>
<line x1="384.7" y1="364.4" x2="384.7" y2="366" stroke="#94889f" stroke-width="0.8"/>
<line x1="389.7" y1="352" x2="389.7" y2="353.6" stroke="#94889f" stroke-width="0.8"/>
<line x1="389.7" y1="364.4" x2="389.7" y2="366" stroke="#94889f" stroke-width="0.8"/>
<line x1="394.7" y1="352" x2="394.7" y2="353.6" stroke="#94889f" stroke-width="0.8"/>
<line x1="394.7" y1="364.4" x2="394.7" y2="366" stroke="#94889f" stroke-width="0.8"/>
<line x1="399.7" y1="352" x2="399.7" y2="353.6" stroke="#94889f" stroke-width="0.8"/>
<line x1="399.7" y1="364.4" x2="399.7" y2="366" stroke="#94889f" stroke-width="0.8"/>
<line x1="404.7" y1="352" x2="404.7" y2="353.6" stroke="#94889f" stroke-width="0.8"/>
<line x1="404.7" y1="364.4" x2="404.7" y2="366" stroke="#94889f" stroke-width="0.8"/>
<line x1="410.7" y1="352" x2="410.7" y2="353.6" stroke="#94889f" stroke-width="0.8"/>
<line x1="410.7" y1="364.4" x2="410.7" y2="366" stroke="#94889f" stroke-width="0.8"/>
<line x1="415.7" y1="352" x2="415.7" y2="353.6" stroke="#94889f" stroke-width="0.8"/>
<line x1="415.7" y1="364.4" x2="415.7" y2="366" stroke="#94889f" stroke-width="0.8"/>
<line x1="420.7" y1="352" x2="420.7" y2="353.6" stroke="#94889f" stroke-width="0.8"/>
<line x1="420.7" y1="364.4" x2="420.7" y2="366" stroke="#94889f" stroke-width="0.8"/>
<line x1="425.7" y1="352" x2="425.7" y2="353.6" stroke="#94889f" stroke-width="0.8"/>
<line x1="425.7" y1="364.4" x2="425.7" y2="366" stroke="#94889f" stroke-width="0.8"/>
<line x1="430.7" y1="352" x2="430.7" y2="353.6" stroke="#94889f" stroke-width="0.8"/>
<line x1="430.7" y1="364.4" x2="430.7" y2="366" stroke="#94889f" stroke-width="0.8"/>
<line x1="435.7" y1="352" x2="435.7" y2="353.6" stroke="#94889f" stroke-width="0.8"/>
<line x1="435.7" y1="364.4" x2="435.7" y2="366" stroke="#94889f" stroke-width="0.8"/>
<line x1="440.7" y1="352" x2="440.7" y2="353.6" stroke="#94889f" stroke-width="0.8"/>
<line x1="440.7" y1="364.4" x2="440.7" y2="366" stroke="#94889f" stroke-width="0.8"/>
<line x1="445.7" y1="352" x2="445.7" y2="353.6" stroke="#94889f" stroke-width="0.8"/>
<line x1="445.7" y1="364.4" x2="445.7" y2="366" stroke="#94889f" stroke-width="0.8"/>
<line x1="450.7" y1="352" x2="450.7" y2="353.6" stroke="#94889f" stroke-width="0.8"/>
<line x1="450.7" y1="364.4" x2="450.7" y2="366" stroke="#94889f" stroke-width="0.8"/>
<line x1="455.7" y1="352" x2="455.7" y2="353.6" stroke="#94889f" stroke-width="0.8"/>
<line x1="455.7" y1="364.4" x2="455.7" y2="366" stroke="#94889f" stroke-width="0.8"/>
<line x1="460.7" y1="352" x2="460.7" y2="353.6" stroke="#94889f" stroke-width="0.8"/>
<line x1="460.7" y1="364.4" x2="460.7" y2="366" stroke="#94889f" stroke-width="0.8"/>
<line x1="465.7" y1="352" x2="465.7" y2="353.6" stroke="#94889f" stroke-width="0.8"/>
<line x1="465.7" y1="364.4" x2="465.7" y2="366" stroke="#94889f" stroke-width="0.8"/>
<line x1="470.7" y1="352" x2="470.7" y2="353.6" stroke="#94889f" stroke-width="0.8"/>
<line x1="470.7" y1="364.4" x2="470.7" y2="366" stroke="#94889f" stroke-width="0.8"/>
<line x1="475.7" y1="352" x2="475.7" y2="353.6" stroke="#94889f" stroke-width="0.8"/>
<line x1="475.7" y1="364.4" x2="475.7" y2="366" stroke="#94889f" stroke-width="0.8"/>
<line x1="480.7" y1="352" x2="480.7" y2="353.6" stroke="#94889f" stroke-width="0.8"/>
<line x1="480.7" y1="364.4" x2="480.7" y2="366" stroke="#94889f" stroke-width="0.8"/>
<line x1="485.7" y1="352" x2="485.7" y2="353.6" stroke="#94889f" stroke-width="0.8"/>
<line x1="485.7" y1="364.4" x2="485.7" y2="366" stroke="#94889f" stroke-width="0.8"/>
<line x1="490.7" y1="352" x2="490.7" y2="353.6" stroke="#94889f" stroke-width="0.8"/>
<line x1="490.7" y1="364.4" x2="490.7" y2="366" stroke="#94889f" stroke-width="0.8"/>
<line x1="495.7" y1="352" x2="495.7" y2="353.6" stroke="#94889f" stroke-width="0.8"/>
<line x1="495.7" y1="364.4" x2="495.7" y2="366" stroke="#94889f" stroke-width="0.8"/>
<line x1="500.7" y1="352" x2="500.7" y2="353.6" stroke="#94889f" stroke-width="0.8"/>
<line x1="500.7" y1="364.4" x2="500.7" y2="366" stroke="#94889f" stroke-width="0.8"/>
<line x1="505.7" y1="352" x2="505.7" y2="353.6" stroke="#94889f" stroke-width="0.8"/>
<line x1="505.7" y1="364.4" x2="505.7" y2="366" stroke="#94889f" stroke-width="0.8"/>
<line x1="510.7" y1="352" x2="510.7" y2="353.6" stroke="#94889f" stroke-width="0.8"/>
<line x1="510.7" y1="364.4" x2="510.7" y2="366" stroke="#94889f" stroke-width="0.8"/>
<line x1="515.7" y1="352" x2="515.7" y2="353.6" stroke="#94889f" stroke-width="0.8"/>
<line x1="515.7" y1="364.4" x2="515.7" y2="366" stroke="#94889f" stroke-width="0.8"/>
<line x1="520.7" y1="352" x2="520.7" y2="353.6" stroke="#94889f" stroke-width="0.8"/>
<line x1="520.7" y1="364.4" x2="520.7" y2="366" stroke="#94889f" stroke-width="0.8"/>
<line x1="525.7" y1="352" x2="525.7" y2="353.6" stroke="#94889f" stroke-width="0.8"/>
<line x1="525.7" y1="364.4" x2="525.7" y2="366" stroke="#94889f" stroke-width="0.8"/>
<line x1="530.7" y1="352" x2="530.7" y2="353.6" stroke="#94889f" stroke-width="0.8"/>
<line x1="530.7" y1="364.4" x2="530.7" y2="366" stroke="#94889f" stroke-width="0.8"/>
<line x1="535.7" y1="352" x2="535.7" y2="353.6" stroke="#94889f" stroke-width="0.8"/>
<line x1="535.7" y1="364.4" x2="535.7" y2="366" stroke="#94889f" stroke-width="0.8"/>
<line x1="540.7" y1="352" x2="540.7" y2="353.6" stroke="#94889f" stroke-width="0.8"/>
<line x1="540.7" y1="364.4" x2="540.7" y2="366" stroke="#94889f" stroke-width="0.8"/>
<line x1="545.7" y1="352" x2="545.7" y2="353.6" stroke="#94889f" stroke-width="0.8"/>
<line x1="545.7" y1="364.4" x2="545.7" y2="366" stroke="#94889f" stroke-width="0.8"/>
<line x1="550.7" y1="352" x2="550.7" y2="353.6" stroke="#94889f" stroke-width="0.8"/>
<line x1="550.7" y1="364.4" x2="550.7" y2="366" stroke="#94889f" stroke-width="0.8"/>
<line x1="555.7" y1="352" x2="555.7" y2="353.6" stroke="#94889f" stroke-width="0.8"/>
<line x1="555.7" y1="364.4" x2="555.7" y2="366" stroke="#94889f" stroke-width="0.8"/>
<line x1="560.7" y1="352" x2="560.7" y2="353.6" stroke="#94889f" stroke-width="0.8"/>
<line x1="560.7" y1="364.4" x2="560.7" y2="366" stroke="#94889f" stroke-width="0.8"/>
<line x1="566.7" y1="352" x2="566.7" y2="353.6" stroke="#94889f" stroke-width="0.8"/>
<line x1="566.7" y1="364.4" x2="566.7" y2="366" stroke="#94889f" stroke-width="0.8"/>
<line x1="571.7" y1="352" x2="571.7" y2="353.6" stroke="#94889f" stroke-width="0.8"/>
<line x1="571.7" y1="364.4" x2="571.7" y2="366" stroke="#94889f" stroke-width="0.8"/>
<line x1="576.7" y1="352" x2="576.7" y2="353.6" stroke="#94889f" stroke-width="0.8"/>
<line x1="576.7" y1="364.4" x2="576.7" y2="366" stroke="#94889f" stroke-width="0.8"/>
<line x1="581.7" y1="352" x2="581.7" y2="353.6" stroke="#94889f" stroke-width="0.8"/>
<line x1="581.7" y1="364.4" x2="581.7" y2="366" stroke="#94889f" stroke-width="0.8"/>
<line x1="586.7" y1="352" x2="586.7" y2="353.6" stroke="#94889f" stroke-width="0.8"/>
<line x1="586.7" y1="364.4" x2="586.7" y2="366" stroke="#94889f" stroke-width="0.8"/>
<line x1="591.7" y1="352" x2="591.7" y2="353.6" stroke="#94889f" stroke-width="0.8"/>
<line x1="591.7" y1="364.4" x2="591.7" y2="366" stroke="#94889f" stroke-width="0.8"/>
<line x1="596.7" y1="352" x2="596.7" y2="353.6" stroke="#94889f" stroke-width="0.8"/>
<line x1="596.7" y1="364.4" x2="596.7" y2="366" stroke="#94889f" stroke-width="0.8"/>
<line x1="601.7" y1="352" x2="601.7" y2="353.6" stroke="#94889f" stroke-width="0.8"/>
<line x1="601.7" y1="364.4" x2="601.7" y2="366" stroke="#94889f" stroke-width="0.8"/>
<line x1="606.7" y1="352" x2="606.7" y2="353.6" stroke="#94889f" stroke-width="0.8"/>
<line x1="606.7" y1="364.4" x2="606.7" y2="366" stroke="#94889f" stroke-width="0.8"/>
<line x1="611.7" y1="352" x2="611.7" y2="353.6" stroke="#94889f" stroke-width="0.8"/>
<line x1="611.7" y1="364.4" x2="611.7" y2="366" stroke="#94889f" stroke-width="0.8"/>
<line x1="616.7" y1="352" x2="616.7" y2="353.6" stroke="#94889f" stroke-width="0.8"/>
<line x1="616.7" y1="364.4" x2="616.7" y2="366" stroke="#94889f" stroke-width="0.8"/>
<line x1="621.7" y1="352" x2="621.7" y2="353.6" stroke="#94889f" stroke-width="0.8"/>
<line x1="621.7" y1="364.4" x2="621.7" y2="366" stroke="#94889f" stroke-width="0.8"/>
<line x1="626.7" y1="352" x2="626.7" y2="353.6" stroke="#94889f" stroke-width="0.8"/>
<line x1="626.7" y1="364.4" x2="626.7" y2="366" stroke="#94889f" stroke-width="0.8"/>
<line x1="631.7" y1="352" x2="631.7" y2="353.6" stroke="#94889f" stroke-width="0.8"/>
<line x1="631.7" y1="364.4" x2="631.7" y2="366" stroke="#94889f" stroke-width="0.8"/>
<line x1="636.7" y1="352" x2="636.7" y2="353.6" stroke="#94889f" stroke-width="0.8"/>
<line x1="636.7" y1="364.4" x2="636.7" y2="366" stroke="#94889f" stroke-width="0.8"/>
<line x1="641.7" y1="352" x2="641.7" y2="353.6" stroke="#94889f" stroke-width="0.8"/>
<line x1="641.7" y1="364.4" x2="641.7" y2="366" stroke="#94889f" stroke-width="0.8"/>
<line x1="646.7" y1="352" x2="646.7" y2="353.6" stroke="#94889f" stroke-width="0.8"/>
<line x1="646.7" y1="364.4" x2="646.7" y2="366" stroke="#94889f" stroke-width="0.8"/>
<line x1="651.7" y1="352" x2="651.7" y2="353.6" stroke="#94889f" stroke-width="0.8"/>
<line x1="651.7" y1="364.4" x2="651.7" y2="366" stroke="#94889f" stroke-width="0.8"/>
<line x1="656.7" y1="352" x2="656.7" y2="353.6" stroke="#94889f" stroke-width="0.8"/>
<line x1="656.7" y1="364.4" x2="656.7" y2="366" stroke="#94889f" stroke-width="0.8"/>
<line x1="661.7" y1="352" x2="661.7" y2="353.6" stroke="#94889f" stroke-width="0.8"/>
<line x1="661.7" y1="364.4" x2="661.7" y2="366" stroke="#94889f" stroke-width="0.8"/>
<line x1="666.7" y1="352" x2="666.7" y2="353.6" stroke="#94889f" stroke-width="0.8"/>
<line x1="666.7" y1="364.4" x2="666.7" y2="366" stroke="#94889f" stroke-width="0.8"/>
<line x1="671.7" y1="352" x2="671.7" y2="353.6" stroke="#94889f" stroke-width="0.8"/>
<line x1="671.7" y1="364.4" x2="671.7" y2="366" stroke="#94889f" stroke-width="0.8"/>
<line x1="676.7" y1="352" x2="676.7" y2="353.6" stroke="#94889f" stroke-width="0.8"/>
<line x1="676.7" y1="364.4" x2="676.7" y2="366" stroke="#94889f" stroke-width="0.8"/>
<line x1="681.7" y1="352" x2="681.7" y2="353.6" stroke="#94889f" stroke-width="0.8"/>
<line x1="681.7" y1="364.4" x2="681.7" y2="366" stroke="#94889f" stroke-width="0.8"/>
<line x1="686.7" y1="352" x2="686.7" y2="353.6" stroke="#94889f" stroke-width="0.8"/>
<line x1="686.7" y1="364.4" x2="686.7" y2="366" stroke="#94889f" stroke-width="0.8"/>
<line x1="691.7" y1="352" x2="691.7" y2="353.6" stroke="#94889f" stroke-width="0.8"/>
<line x1="691.7" y1="364.4" x2="691.7" y2="366" stroke="#94889f" stroke-width="0.8"/>
<line x1="696.7" y1="352" x2="696.7" y2="353.6" stroke="#94889f" stroke-width="0.8"/>
<line x1="696.7" y1="364.4" x2="696.7" y2="366" stroke="#94889f" stroke-width="0.8"/>
<line x1="701.7" y1="352" x2="701.7" y2="353.6" stroke="#94889f" stroke-width="0.8"/>
<line x1="701.7" y1="364.4" x2="701.7" y2="366" stroke="#94889f" stroke-width="0.8"/>
<line x1="706.7" y1="352" x2="706.7" y2="353.6" stroke="#94889f" stroke-width="0.8"/>
<line x1="706.7" y1="364.4" x2="706.7" y2="366" stroke="#94889f" stroke-width="0.8"/>
<line x1="711.7" y1="352" x2="711.7" y2="353.6" stroke="#94889f" stroke-width="0.8"/>
<line x1="711.7" y1="364.4" x2="711.7" y2="366" stroke="#94889f" stroke-width="0.8"/>
<line x1="716.7" y1="352" x2="716.7" y2="353.6" stroke="#94889f" stroke-width="0.8"/>
<line x1="716.7" y1="364.4" x2="716.7" y2="366" stroke="#94889f" stroke-width="0.8"/>
<line x1="721.7" y1="352" x2="721.7" y2="353.6" stroke="#94889f" stroke-width="0.8"/>
<line x1="721.7" y1="364.4" x2="721.7" y2="366" stroke="#94889f" stroke-width="0.8"/>
<line x1="727.7" y1="352" x2="727.7" y2="353.6" stroke="#94889f" stroke-width="0.8"/>
<line x1="727.7" y1="364.4" x2="727.7" y2="366" stroke="#94889f" stroke-width="0.8"/>
<line x1="732.7" y1="352" x2="732.7" y2="353.6" stroke="#94889f" stroke-width="0.8"/>
<line x1="732.7" y1="364.4" x2="732.7" y2="366" stroke="#94889f" stroke-width="0.8"/>
<line x1="737.7" y1="352" x2="737.7" y2="353.6" stroke="#94889f" stroke-width="0.8"/>
<line x1="737.7" y1="364.4" x2="737.7" y2="366" stroke="#94889f" stroke-width="0.8"/>
<line x1="742.7" y1="352" x2="742.7" y2="353.6" stroke="#94889f" stroke-width="0.8"/>
<line x1="742.7" y1="364.4" x2="742.7" y2="366" stroke="#94889f" stroke-width="0.8"/>
<line x1="747.7" y1="352" x2="747.7" y2="353.6" stroke="#94889f" stroke-width="0.8"/>
<line x1="747.7" y1="364.4" x2="747.7" y2="366" stroke="#94889f" stroke-width="0.8"/>
<line x1="752.7" y1="352" x2="752.7" y2="353.6" stroke="#94889f" stroke-width="0.8"/>
<line x1="752.7" y1="364.4" x2="752.7" y2="366" stroke="#94889f" stroke-width="0.8"/>
<line x1="757.7" y1="352" x2="757.7" y2="353.6" stroke="#94889f" stroke-width="0.8"/>
<line x1="757.7" y1="364.4" x2="757.7" y2="366" stroke="#94889f" stroke-width="0.8"/>
<line x1="762.7" y1="352" x2="762.7" y2="353.6" stroke="#94889f" stroke-width="0.8"/>
<line x1="762.7" y1="364.4" x2="762.7" y2="366" stroke="#94889f" stroke-width="0.8"/>
<line x1="767.7" y1="352" x2="767.7" y2="353.6" stroke="#94889f" stroke-width="0.8"/>
<line x1="767.7" y1="364.4" x2="767.7" y2="366" stroke="#94889f" stroke-width="0.8"/>
<line x1="772.7" y1="352" x2="772.7" y2="353.6" stroke="#94889f" stroke-width="0.8"/>
<line x1="772.7" y1="364.4" x2="772.7" y2="366" stroke="#94889f" stroke-width="0.8"/>
<line x1="777.7" y1="352" x2="777.7" y2="353.6" stroke="#94889f" stroke-width="0.8"/>
<line x1="777.7" y1="364.4" x2="777.7" y2="366" stroke="#94889f" stroke-width="0.8"/>
<line x1="782.7" y1="352" x2="782.7" y2="353.6" stroke="#94889f" stroke-width="0.8"/>
<line x1="782.7" y1="364.4" x2="782.7" y2="366" stroke="#94889f" stroke-width="0.8"/>
<line x1="787.7" y1="352" x2="787.7" y2="353.6" stroke="#94889f" stroke-width="0.8"/>
<line x1="787.7" y1="364.4" x2="787.7" y2="366" stroke="#94889f" stroke-width="0.8"/>
<line x1="792.7" y1="352" x2="792.7" y2="353.6" stroke="#94889f" stroke-width="0.8"/>
<line x1="792.7" y1="364.4" x2="792.7" y2="366" stroke="#94889f" stroke-width="0.8"/>
<line x1="797.7" y1="352" x2="797.7" y2="353.6" stroke="#94889f" stroke-width="0.8"/>
<line x1="797.7" y1="364.4" x2="797.7" y2="366" stroke="#94889f" stroke-width="0.8"/>
<line x1="802.7" y1="352" x2="802.7" y2="353.6" stroke="#94889f" stroke-width="0.8"/>
<line x1="802.7" y1="364.4" x2="802.7" y2="366" stroke="#94889f" stroke-width="0.8"/>
<text x="27.84" y="362.6" font-family="Liberation Sans, sans-serif" font-size="10.4" font-weight="bold" fill="#000" textLength="19.52" lengthAdjust="spacingAndGlyphs">Apr</text>
<text x="66.51" y="362.6" font-family="Liberation Sans, sans-serif" font-size="9.6" fill="#000" textLength="11.38" lengthAdjust="spacingAndGlyphs">13</text>
<text x="92.51" y="362.6" font-family="Liberation Sans, sans-serif" font-size="9.6" fill="#000" textLength="11.38" lengthAdjust="spacingAndGlyphs">20</text>
<text x="117.51" y="362.6" font-family="Liberation Sans, sans-serif" font-size="9.6" fill="#000" textLength="11.38" lengthAdjust="spacingAndGlyphs">27</text>
<text x="132.57" y="362.6" font-family="Liberation Sans, sans-serif" font-size="10.4" font-weight="bold" fill="#000" textLength="22.05" lengthAdjust="spacingAndGlyphs">May</text>
<text x="167.89" y="362.6" font-family="Liberation Sans, sans-serif" font-size="9.6" fill="#000" textLength="10.62" lengthAdjust="spacingAndGlyphs">11</text>
<text x="192.51" y="362.6" font-family="Liberation Sans, sans-serif" font-size="9.6" fill="#000" textLength="11.38" lengthAdjust="spacingAndGlyphs">18</text>
<text x="217.51" y="362.6" font-family="Liberation Sans, sans-serif" font-size="9.6" fill="#000" textLength="11.38" lengthAdjust="spacingAndGlyphs">26</text>
<text x="233.52" y="362.6" font-family="Liberation Sans, sans-serif" font-size="10.4" font-weight="bold" fill="#000" textLength="20.15" lengthAdjust="spacingAndGlyphs">Jun</text>
<text x="266.36" y="362.6" font-family="Liberation Sans, sans-serif" font-size="9.6" fill="#000" textLength="5.69" lengthAdjust="spacingAndGlyphs">8</text>
<text x="288.51" y="362.6" font-family="Liberation Sans, sans-serif" font-size="9.6" fill="#000" textLength="11.38" lengthAdjust="spacingAndGlyphs">15</text>
<text x="313.51" y="362.6" font-family="Liberation Sans, sans-serif" font-size="9.6" fill="#000" textLength="11.38" lengthAdjust="spacingAndGlyphs">22</text>
<text x="346.41" y="362.6" font-family="Liberation Sans, sans-serif" font-size="10.4" font-weight="bold" fill="#000" textLength="16.38" lengthAdjust="spacingAndGlyphs">Jul</text>
<text x="361.36" y="362.6" font-family="Liberation Sans, sans-serif" font-size="9.6" fill="#000" textLength="5.69" lengthAdjust="spacingAndGlyphs">6</text>
<text x="383.51" y="362.6" font-family="Liberation Sans, sans-serif" font-size="9.6" fill="#000" textLength="11.38" lengthAdjust="spacingAndGlyphs">13</text>
<text x="409.51" y="362.6" font-family="Liberation Sans, sans-serif" font-size="9.6" fill="#000" textLength="11.38" lengthAdjust="spacingAndGlyphs">20</text>
<text x="434.51" y="362.6" font-family="Liberation Sans, sans-serif" font-size="9.6" fill="#000" textLength="11.38" lengthAdjust="spacingAndGlyphs">27</text>
<text x="454.58" y="362.6" font-family="Liberation Sans, sans-serif" font-size="10.4" font-weight="bold" fill="#000" textLength="22.03" lengthAdjust="spacingAndGlyphs">Aug</text>
<text x="484.51" y="362.6" font-family="Liberation Sans, sans-serif" font-size="9.6" fill="#000" textLength="11.38" lengthAdjust="spacingAndGlyphs">10</text>
<text x="509.51" y="362.6" font-family="Liberation Sans, sans-serif" font-size="9.6" fill="#000" textLength="11.38" lengthAdjust="spacingAndGlyphs">17</text>
<text x="534.51" y="362.6" font-family="Liberation Sans, sans-serif" font-size="9.6" fill="#000" textLength="11.38" lengthAdjust="spacingAndGlyphs">24</text>
<text x="561.21" y="362.6" font-family="Liberation Sans, sans-serif" font-size="10.4" font-weight="bold" fill="#000" textLength="20.79" lengthAdjust="spacingAndGlyphs">Sep</text>
<text x="588.36" y="362.6" font-family="Liberation Sans, sans-serif" font-size="9.6" fill="#000" textLength="5.69" lengthAdjust="spacingAndGlyphs">8</text>
<text x="605.51" y="362.6" font-family="Liberation Sans, sans-serif" font-size="9.6" fill="#000" textLength="11.38" lengthAdjust="spacingAndGlyphs">14</text>
<text x="630.51" y="362.6" font-family="Liberation Sans, sans-serif" font-size="9.6" fill="#000" textLength="11.38" lengthAdjust="spacingAndGlyphs">21</text>
<text x="655.51" y="362.6" font-family="Liberation Sans, sans-serif" font-size="9.6" fill="#000" textLength="11.38" lengthAdjust="spacingAndGlyphs">28</text>
<text x="667.15" y="362.6" font-family="Liberation Sans, sans-serif" font-size="10.4" font-weight="bold" fill="#000" textLength="18.9" lengthAdjust="spacingAndGlyphs">Oct</text>
<text x="705.51" y="362.6" font-family="Liberation Sans, sans-serif" font-size="9.6" fill="#000" textLength="11.38" lengthAdjust="spacingAndGlyphs">12</text>
<text x="731.51" y="362.6" font-family="Liberation Sans, sans-serif" font-size="9.6" fill="#000" textLength="11.38" lengthAdjust="spacingAndGlyphs">19</text>
<text x="756.51" y="362.6" font-family="Liberation Sans, sans-serif" font-size="9.6" fill="#000" textLength="11.38" lengthAdjust="spacingAndGlyphs">26</text>
<text x="776.89" y="362.6" font-family="Liberation Sans, sans-serif" font-size="10.4" font-weight="bold" fill="#000" textLength="21.41" lengthAdjust="spacingAndGlyphs">Nov</text>
<line x1="17.7" y1="616" x2="17.7" y2="617.6" stroke="#94889f" stroke-width="0.8"/>
<line x1="22.7" y1="616" x2="22.7" y2="617.6" stroke="#94889f" stroke-width="0.8"/>
<line x1="27.7" y1="616" x2="27.7" y2="617.6" stroke="#94889f" stroke-width="0.8"/>
<line x1="32.7" y1="616" x2="32.7" y2="617.6" stroke="#94889f" stroke-width="0.8"/>
<line x1="37.7" y1="616" x2="37.7" y2="617.6" stroke="#94889f" stroke-width="0.8"/>
<line x1="42.7" y1="616" x2="42.7" y2="617.6" stroke="#94889f" stroke-width="0.8"/>
<line x1="47.7" y1="616" x2="47.7" y2="617.6" stroke="#94889f" stroke-width="0.8"/>
<line x1="52.7" y1="616" x2="52.7" y2="617.6" stroke="#94889f" stroke-width="0.8"/>
<line x1="57.7" y1="616" x2="57.7" y2="617.6" stroke="#94889f" stroke-width="0.8"/>
<line x1="62.7" y1="616" x2="62.7" y2="617.6" stroke="#94889f" stroke-width="0.8"/>
<line x1="67.7" y1="616" x2="67.7" y2="617.6" stroke="#94889f" stroke-width="0.8"/>
<line x1="72.7" y1="616" x2="72.7" y2="617.6" stroke="#94889f" stroke-width="0.8"/>
<line x1="77.7" y1="616" x2="77.7" y2="617.6" stroke="#94889f" stroke-width="0.8"/>
<line x1="82.7" y1="616" x2="82.7" y2="617.6" stroke="#94889f" stroke-width="0.8"/>
<line x1="87.7" y1="616" x2="87.7" y2="617.6" stroke="#94889f" stroke-width="0.8"/>
<line x1="93.7" y1="616" x2="93.7" y2="617.6" stroke="#94889f" stroke-width="0.8"/>
<line x1="98.7" y1="616" x2="98.7" y2="617.6" stroke="#94889f" stroke-width="0.8"/>
<line x1="103.7" y1="616" x2="103.7" y2="617.6" stroke="#94889f" stroke-width="0.8"/>
<line x1="108.7" y1="616" x2="108.7" y2="617.6" stroke="#94889f" stroke-width="0.8"/>
<line x1="113.7" y1="616" x2="113.7" y2="617.6" stroke="#94889f" stroke-width="0.8"/>
<line x1="118.7" y1="616" x2="118.7" y2="617.6" stroke="#94889f" stroke-width="0.8"/>
<line x1="123.7" y1="616" x2="123.7" y2="617.6" stroke="#94889f" stroke-width="0.8"/>
<line x1="128.7" y1="616" x2="128.7" y2="617.6" stroke="#94889f" stroke-width="0.8"/>
<line x1="133.7" y1="616" x2="133.7" y2="617.6" stroke="#94889f" stroke-width="0.8"/>
<line x1="138.7" y1="616" x2="138.7" y2="617.6" stroke="#94889f" stroke-width="0.8"/>
<line x1="143.7" y1="616" x2="143.7" y2="617.6" stroke="#94889f" stroke-width="0.8"/>
<line x1="148.7" y1="616" x2="148.7" y2="617.6" stroke="#94889f" stroke-width="0.8"/>
<line x1="153.7" y1="616" x2="153.7" y2="617.6" stroke="#94889f" stroke-width="0.8"/>
<line x1="158.7" y1="616" x2="158.7" y2="617.6" stroke="#94889f" stroke-width="0.8"/>
<line x1="163.7" y1="616" x2="163.7" y2="617.6" stroke="#94889f" stroke-width="0.8"/>
<line x1="168.7" y1="616" x2="168.7" y2="617.6" stroke="#94889f" stroke-width="0.8"/>
<line x1="173.7" y1="616" x2="173.7" y2="617.6" stroke="#94889f" stroke-width="0.8"/>
<line x1="178.7" y1="616" x2="178.7" y2="617.6" stroke="#94889f" stroke-width="0.8"/>
<line x1="183.7" y1="616" x2="183.7" y2="617.6" stroke="#94889f" stroke-width="0.8"/>
<line x1="188.7" y1="616" x2="188.7" y2="617.6" stroke="#94889f" stroke-width="0.8"/>
<line x1="193.7" y1="616" x2="193.7" y2="617.6" stroke="#94889f" stroke-width="0.8"/>
<line x1="198.7" y1="616" x2="198.7" y2="617.6" stroke="#94889f" stroke-width="0.8"/>
<line x1="203.7" y1="616" x2="203.7" y2="617.6" stroke="#94889f" stroke-width="0.8"/>
<line x1="208.7" y1="616" x2="208.7" y2="617.6" stroke="#94889f" stroke-width="0.8"/>
<line x1="213.7" y1="616" x2="213.7" y2="617.6" stroke="#94889f" stroke-width="0.8"/>
<line x1="218.7" y1="616" x2="218.7" y2="617.6" stroke="#94889f" stroke-width="0.8"/>
<line x1="223.7" y1="616" x2="223.7" y2="617.6" stroke="#94889f" stroke-width="0.8"/>
<line x1="228.7" y1="616" x2="228.7" y2="617.6" stroke="#94889f" stroke-width="0.8"/>
<line x1="233.7" y1="616" x2="233.7" y2="617.6" stroke="#94889f" stroke-width="0.8"/>
<line x1="238.7" y1="616" x2="238.7" y2="617.6" stroke="#94889f" stroke-width="0.8"/>
<line x1="243.7" y1="616" x2="243.7" y2="617.6" stroke="#94889f" stroke-width="0.8"/>
<line x1="249.7" y1="616" x2="249.7" y2="617.6" stroke="#94889f" stroke-width="0.8"/>
<line x1="254.7" y1="616" x2="254.7" y2="617.6" stroke="#94889f" stroke-width="0.8"/>
<line x1="259.7" y1="616" x2="259.7" y2="617.6" stroke="#94889f" stroke-width="0.8"/>
<line x1="264.7" y1="616" x2="264.7" y2="617.6" stroke="#94889f" stroke-width="0.8"/>
<line x1="269.7" y1="616" x2="269.7" y2="617.6" stroke="#94889f" stroke-width="0.8"/>
<line x1="274.7" y1="616" x2="274.7" y2="617.6" stroke="#94889f" stroke-width="0.8"/>
<line x1="279.7" y1="616" x2="279.7" y2="617.6" stroke="#94889f" stroke-width="0.8"/>
<line x1="284.7" y1="616" x2="284.7" y2="617.6" stroke="#94889f" stroke-width="0.8"/>
<line x1="289.7" y1="616" x2="289.7" y2="617.6" stroke="#94889f" stroke-width="0.8"/>
<line x1="294.7" y1="616" x2="294.7" y2="617.6" stroke="#94889f" stroke-width="0.8"/>
<line x1="299.7" y1="616" x2="299.7" y2="617.6" stroke="#94889f" stroke-width="0.8"/>
<line x1="304.7" y1="616" x2="304.7" y2="617.6" stroke="#94889f" stroke-width="0.8"/>
<line x1="309.7" y1="616" x2="309.7" y2="617.6" stroke="#94889f" stroke-width="0.8"/>
<line x1="314.7" y1="616" x2="314.7" y2="617.6" stroke="#94889f" stroke-width="0.8"/>
<line x1="319.7" y1="616" x2="319.7" y2="617.6" stroke="#94889f" stroke-width="0.8"/>
<line x1="324.7" y1="616" x2="324.7" y2="617.6" stroke="#94889f" stroke-width="0.8"/>
<line x1="329.7" y1="616" x2="329.7" y2="617.6" stroke="#94889f" stroke-width="0.8"/>
<line x1="334.7" y1="616" x2="334.7" y2="617.6" stroke="#94889f" stroke-width="0.8"/>
<line x1="339.7" y1="616" x2="339.7" y2="617.6" stroke="#94889f" stroke-width="0.8"/>
<line x1="344.7" y1="616" x2="344.7" y2="617.6" stroke="#94889f" stroke-width="0.8"/>
<line x1="349.7" y1="616" x2="349.7" y2="617.6" stroke="#94889f" stroke-width="0.8"/>
<line x1="354.7" y1="616" x2="354.7" y2="617.6" stroke="#94889f" stroke-width="0.8"/>
<line x1="359.7" y1="616" x2="359.7" y2="617.6" stroke="#94889f" stroke-width="0.8"/>
<line x1="364.7" y1="616" x2="364.7" y2="617.6" stroke="#94889f" stroke-width="0.8"/>
<line x1="369.7" y1="616" x2="369.7" y2="617.6" stroke="#94889f" stroke-width="0.8"/>
<line x1="374.7" y1="616" x2="374.7" y2="617.6" stroke="#94889f" stroke-width="0.8"/>
<line x1="379.7" y1="616" x2="379.7" y2="617.6" stroke="#94889f" stroke-width="0.8"/>
<line x1="384.7" y1="616" x2="384.7" y2="617.6" stroke="#94889f" stroke-width="0.8"/>
<line x1="389.7" y1="616" x2="389.7" y2="617.6" stroke="#94889f" stroke-width="0.8"/>
<line x1="394.7" y1="616" x2="394.7" y2="617.6" stroke="#94889f" stroke-width="0.8"/>
<line x1="399.7" y1="616" x2="399.7" y2="617.6" stroke="#94889f" stroke-width="0.8"/>
<line x1="404.7" y1="616" x2="404.7" y2="617.6" stroke="#94889f" stroke-width="0.8"/>
<line x1="410.7" y1="616" x2="410.7" y2="617.6" stroke="#94889f" stroke-width="0.8"/>
<line x1="415.7" y1="616" x2="415.7" y2="617.6" stroke="#94889f" stroke-width="0.8"/>
<line x1="420.7" y1="616" x2="420.7" y2="617.6" stroke="#94889f" stroke-width="0.8"/>
<line x1="425.7" y1="616" x2="425.7" y2="617.6" stroke="#94889f" stroke-width="0.8"/>
<line x1="430.7" y1="616" x2="430.7" y2="617.6" stroke="#94889f" stroke-width="0.8"/>
<line x1="435.7" y1="616" x2="435.7" y2="617.6" stroke="#94889f" stroke-width="0.8"/>
<line x1="440.7" y1="616" x2="440.7" y2="617.6" stroke="#94889f" stroke-width="0.8"/>
<line x1="445.7" y1="616" x2="445.7" y2="617.6" stroke="#94889f" stroke-width="0.8"/>
<line x1="450.7" y1="616" x2="450.7" y2="617.6" stroke="#94889f" stroke-width="0.8"/>
<line x1="455.7" y1="616" x2="455.7" y2="617.6" stroke="#94889f" stroke-width="0.8"/>
<line x1="460.7" y1="616" x2="460.7" y2="617.6" stroke="#94889f" stroke-width="0.8"/>
<line x1="465.7" y1="616" x2="465.7" y2="617.6" stroke="#94889f" stroke-width="0.8"/>
<line x1="470.7" y1="616" x2="470.7" y2="617.6" stroke="#94889f" stroke-width="0.8"/>
<line x1="475.7" y1="616" x2="475.7" y2="617.6" stroke="#94889f" stroke-width="0.8"/>
<line x1="480.7" y1="616" x2="480.7" y2="617.6" stroke="#94889f" stroke-width="0.8"/>
<line x1="485.7" y1="616" x2="485.7" y2="617.6" stroke="#94889f" stroke-width="0.8"/>
<line x1="490.7" y1="616" x2="490.7" y2="617.6" stroke="#94889f" stroke-width="0.8"/>
<line x1="495.7" y1="616" x2="495.7" y2="617.6" stroke="#94889f" stroke-width="0.8"/>
<line x1="500.7" y1="616" x2="500.7" y2="617.6" stroke="#94889f" stroke-width="0.8"/>
<line x1="505.7" y1="616" x2="505.7" y2="617.6" stroke="#94889f" stroke-width="0.8"/>
<line x1="510.7" y1="616" x2="510.7" y2="617.6" stroke="#94889f" stroke-width="0.8"/>
<line x1="515.7" y1="616" x2="515.7" y2="617.6" stroke="#94889f" stroke-width="0.8"/>
<line x1="520.7" y1="616" x2="520.7" y2="617.6" stroke="#94889f" stroke-width="0.8"/>
<line x1="525.7" y1="616" x2="525.7" y2="617.6" stroke="#94889f" stroke-width="0.8"/>
<line x1="530.7" y1="616" x2="530.7" y2="617.6" stroke="#94889f" stroke-width="0.8"/>
<line x1="535.7" y1="616" x2="535.7" y2="617.6" stroke="#94889f" stroke-width="0.8"/>
<line x1="540.7" y1="616" x2="540.7" y2="617.6" stroke="#94889f" stroke-width="0.8"/>
<line x1="545.7" y1="616" x2="545.7" y2="617.6" stroke="#94889f" stroke-width="0.8"/>
<line x1="550.7" y1="616" x2="550.7" y2="617.6" stroke="#94889f" stroke-width="0.8"/>
<line x1="555.7" y1="616" x2="555.7" y2="617.6" stroke="#94889f" stroke-width="0.8"/>
<line x1="560.7" y1="616" x2="560.7" y2="617.6" stroke="#94889f" stroke-width="0.8"/>
<line x1="566.7" y1="616" x2="566.7" y2="617.6" stroke="#94889f" stroke-width="0.8"/>
<line x1="571.7" y1="616" x2="571.7" y2="617.6" stroke="#94889f" stroke-width="0.8"/>
<line x1="576.7" y1="616" x2="576.7" y2="617.6" stroke="#94889f" stroke-width="0.8"/>
<line x1="581.7" y1="616" x2="581.7" y2="617.6" stroke="#94889f" stroke-width="0.8"/>
<line x1="586.7" y1="616" x2="586.7" y2="617.6" stroke="#94889f" stroke-width="0.8"/>
<line x1="591.7" y1="616" x2="591.7" y2="617.6" stroke="#94889f" stroke-width="0.8"/>
<line x1="596.7" y1="616" x2="596.7" y2="617.6" stroke="#94889f" stroke-width="0.8"/>
<line x1="601.7" y1="616" x2="601.7" y2="617.6" stroke="#94889f" stroke-width="0.8"/>
<line x1="606.7" y1="616" x2="606.7" y2="617.6" stroke="#94889f" stroke-width="0.8"/>
<line x1="611.7" y1="616" x2="611.7" y2="617.6" stroke="#94889f" stroke-width="0.8"/>
<line x1="616.7" y1="616" x2="616.7" y2="617.6" stroke="#94889f" stroke-width="0.8"/>
<line x1="621.7" y1="616" x2="621.7" y2="617.6" stroke="#94889f" stroke-width="0.8"/>
<line x1="626.7" y1="616" x2="626.7" y2="617.6" stroke="#94889f" stroke-width="0.8"/>
<line x1="631.7" y1="616" x2="631.7" y2="617.6" stroke="#94889f" stroke-width="0.8"/>
<line x1="636.7" y1="616" x2="636.7" y2="617.6" stroke="#94889f" stroke-width="0.8"/>
<line x1="641.7" y1="616" x2="641.7" y2="617.6" stroke="#94889f" stroke-width="0.8"/>
<line x1="646.7" y1="616" x2="646.7" y2="617.6" stroke="#94889f" stroke-width="0.8"/>
<line x1="651.7" y1="616" x2="651.7" y2="617.6" stroke="#94889f" stroke-width="0.8"/>
<line x1="656.7" y1="616" x2="656.7" y2="617.6" stroke="#94889f" stroke-width="0.8"/>
<line x1="661.7" y1="616" x2="661.7" y2="617.6" stroke="#94889f" stroke-width="0.8"/>
<line x1="666.7" y1="616" x2="666.7" y2="617.6" stroke="#94889f" stroke-width="0.8"/>
<line x1="671.7" y1="616" x2="671.7" y2="617.6" stroke="#94889f" stroke-width="0.8"/>
<line x1="676.7" y1="616" x2="676.7" y2="617.6" stroke="#94889f" stroke-width="0.8"/>
<line x1="681.7" y1="616" x2="681.7" y2="617.6" stroke="#94889f" stroke-width="0.8"/>
<line x1="686.7" y1="616" x2="686.7" y2="617.6" stroke="#94889f" stroke-width="0.8"/>
<line x1="691.7" y1="616" x2="691.7" y2="617.6" stroke="#94889f" stroke-width="0.8"/>
<line x1="696.7" y1="616" x2="696.7" y2="617.6" stroke="#94889f" stroke-width="0.8"/>
<line x1="701.7" y1="616" x2="701.7" y2="617.6" stroke="#94889f" stroke-width="0.8"/>
<line x1="706.7" y1="616" x2="706.7" y2="617.6" stroke="#94889f" stroke-width="0.8"/>
<line x1="711.7" y1="616" x2="711.7" y2="617.6" stroke="#94889f" stroke-width="0.8"/>
<line x1="716.7" y1="616" x2="716.7" y2="617.6" stroke="#94889f" stroke-width="0.8"/>
<line x1="721.7" y1="616" x2="721.7" y2="617.6" stroke="#94889f" stroke-width="0.8"/>
<line x1="727.7" y1="616" x2="727.7" y2="617.6" stroke="#94889f" stroke-width="0.8"/>
<line x1="732.7" y1="616" x2="732.7" y2="617.6" stroke="#94889f" stroke-width="0.8"/>
<line x1="737.7" y1="616" x2="737.7" y2="617.6" stroke="#94889f" stroke-width="0.8"/>
<line x1="742.7" y1="616" x2="742.7" y2="617.6" stroke="#94889f" stroke-width="0.8"/>
<line x1="747.7" y1="616" x2="747.7" y2="617.6" stroke="#94889f" stroke-width="0.8"/>
<line x1="752.7" y1="616" x2="752.7" y2="617.6" stroke="#94889f" stroke-width="0.8"/>
<line x1="757.7" y1="616" x2="757.7" y2="617.6" stroke="#94889f" stroke-width="0.8"/>
<line x1="762.7" y1="616" x2="762.7" y2="617.6" stroke="#94889f" stroke-width="0.8"/>
<line x1="767.7" y1="616" x2="767.7" y2="617.6" stroke="#94889f" stroke-width="0.8"/>
<line x1="772.7" y1="616" x2="772.7" y2="617.6" stroke="#94889f" stroke-width="0.8"/>
<line x1="777.7" y1="616" x2="777.7" y2="617.6" stroke="#94889f" stroke-width="0.8"/>
<line x1="782.7" y1="616" x2="782.7" y2="617.6" stroke="#94889f" stroke-width="0.8"/>
<line x1="787.7" y1="616" x2="787.7" y2="617.6" stroke="#94889f" stroke-width="0.8"/>
<line x1="792.7" y1="616" x2="792.7" y2="617.6" stroke="#94889f" stroke-width="0.8"/>
<line x1="797.7" y1="616" x2="797.7" y2="617.6" stroke="#94889f" stroke-width="0.8"/>
<line x1="802.7" y1="616" x2="802.7" y2="617.6" stroke="#94889f" stroke-width="0.8"/>
<text x="27.84" y="627.8" font-family="Liberation Sans, sans-serif" font-size="10.4" font-weight="bold" fill="#000" textLength="19.52" lengthAdjust="spacingAndGlyphs">Apr</text>
<text x="66.51" y="627.8" font-family="Liberation Sans, sans-serif" font-size="9.6" fill="#000" textLength="11.38" lengthAdjust="spacingAndGlyphs">13</text>
<text x="92.51" y="627.8" font-family="Liberation Sans, sans-serif" font-size="9.6" fill="#000" textLength="11.38" lengthAdjust="spacingAndGlyphs">20</text>
<text x="117.51" y="627.8" font-family="Liberation Sans, sans-serif" font-size="9.6" fill="#000" textLength="11.38" lengthAdjust="spacingAndGlyphs">27</text>
<text x="132.57" y="627.8" font-family="Liberation Sans, sans-serif" font-size="10.4" font-weight="bold" fill="#000" textLength="22.05" lengthAdjust="spacingAndGlyphs">May</text>
<text x="167.89" y="627.8" font-family="Liberation Sans, sans-serif" font-size="9.6" fill="#000" textLength="10.62" lengthAdjust="spacingAndGlyphs">11</text>
<text x="192.51" y="627.8" font-family="Liberation Sans, sans-serif" font-size="9.6" fill="#000" textLength="11.38" lengthAdjust="spacingAndGlyphs">18</text>
<text x="217.51" y="627.8" font-family="Liberation Sans, sans-serif" font-size="9.6" fill="#000" textLength="11.38" lengthAdjust="spacingAndGlyphs">26</text>
<text x="233.52" y="627.8" font-family="Liberation Sans, sans-serif" font-size="10.4" font-weight="bold" fill="#000" textLength="20.15" lengthAdjust="spacingAndGlyphs">Jun</text>
<text x="266.36" y="627.8" font-family="Liberation Sans, sans-serif" font-size="9.6" fill="#000" textLength="5.69" lengthAdjust="spacingAndGlyphs">8</text>
<text x="288.51" y="627.8" font-family="Liberation Sans, sans-serif" font-size="9.6" fill="#000" textLength="11.38" lengthAdjust="spacingAndGlyphs">15</text>
<text x="313.51" y="627.8" font-family="Liberation Sans, sans-serif" font-size="9.6" fill="#000" textLength="11.38" lengthAdjust="spacingAndGlyphs">22</text>
<text x="346.41" y="627.8" font-family="Liberation Sans, sans-serif" font-size="10.4" font-weight="bold" fill="#000" textLength="16.38" lengthAdjust="spacingAndGlyphs">Jul</text>
<text x="361.36" y="627.8" font-family="Liberation Sans, sans-serif" font-size="9.6" fill="#000" textLength="5.69" lengthAdjust="spacingAndGlyphs">6</text>
<text x="383.51" y="627.8" font-family="Liberation Sans, sans-serif" font-size="9.6" fill="#000" textLength="11.38" lengthAdjust="spacingAndGlyphs">13</text>
<text x="409.51" y="627.8" font-family="Liberation Sans, sans-serif" font-size="9.6" fill="#000" textLength="11.38" lengthAdjust="spacingAndGlyphs">20</text>
<text x="434.51" y="627.8" font-family="Liberation Sans, sans-serif" font-size="9.6" fill="#000" textLength="11.38" lengthAdjust="spacingAndGlyphs">27</text>
<text x="454.58" y="627.8" font-family="Liberation Sans, sans-serif" font-size="10.4" font-weight="bold" fill="#000" textLength="22.03" lengthAdjust="spacingAndGlyphs">Aug</text>
<text x="484.51" y="627.8" font-family="Liberation Sans, sans-serif" font-size="9.6" fill="#000" textLength="11.38" lengthAdjust="spacingAndGlyphs">10</text>
<text x="509.51" y="627.8" font-family="Liberation Sans, sans-serif" font-size="9.6" fill="#000" textLength="11.38" lengthAdjust="spacingAndGlyphs">17</text>
<text x="534.51" y="627.8" font-family="Liberation Sans, sans-serif" font-size="9.6" fill="#000" textLength="11.38" lengthAdjust="spacingAndGlyphs">24</text>
<text x="561.21" y="627.8" font-family="Liberation Sans, sans-serif" font-size="10.4" font-weight="bold" fill="#000" textLength="20.79" lengthAdjust="spacingAndGlyphs">Sep</text>
<text x="588.36" y="627.8" font-family="Liberation Sans, sans-serif" font-size="9.6" fill="#000" textLength="5.69" lengthAdjust="spacingAndGlyphs">8</text>
<text x="605.51" y="627.8" font-family="Liberation Sans, sans-serif" font-size="9.6" fill="#000" textLength="11.38" lengthAdjust="spacingAndGlyphs">14</text>
<text x="630.51" y="627.8" font-family="Liberation Sans, sans-serif" font-size="9.6" fill="#000" textLength="11.38" lengthAdjust="spacingAndGlyphs">21</text>
<text x="655.51" y="627.8" font-family="Liberation Sans, sans-serif" font-size="9.6" fill="#000" textLength="11.38" lengthAdjust="spacingAndGlyphs">28</text>
<text x="667.15" y="627.8" font-family="Liberation Sans, sans-serif" font-size="10.4" font-weight="bold" fill="#000" textLength="18.9" lengthAdjust="spacingAndGlyphs">Oct</text>
<text x="705.51" y="627.8" font-family="Liberation Sans, sans-serif" font-size="9.6" fill="#000" textLength="11.38" lengthAdjust="spacingAndGlyphs">12</text>
<text x="731.51" y="627.8" font-family="Liberation Sans, sans-serif" font-size="9.6" fill="#000" textLength="11.38" lengthAdjust="spacingAndGlyphs">19</text>
<text x="756.51" y="627.8" font-family="Liberation Sans, sans-serif" font-size="9.6" fill="#000" textLength="11.38" lengthAdjust="spacingAndGlyphs">26</text>
<text x="776.89" y="627.8" font-family="Liberation Sans, sans-serif" font-size="10.4" font-weight="bold" fill="#000" textLength="21.41" lengthAdjust="spacingAndGlyphs">Nov</text>
<text x="807.8" y="48.1" font-family="Liberation Sans, sans-serif" font-size="9.4" fill="#000" textLength="11.66" lengthAdjust="spacingAndGlyphs">90</text>
<text x="807.8" y="61.9" font-family="Liberation Sans, sans-serif" font-size="9.4" fill="#000" textLength="11.66" lengthAdjust="spacingAndGlyphs">70</text>
<text x="807.8" y="75.7" font-family="Liberation Sans, sans-serif" font-size="9.4" fill="#000" textLength="11.66" lengthAdjust="spacingAndGlyphs">50</text>
<text x="807.8" y="103.3" font-family="Liberation Sans, sans-serif" font-size="9.4" fill="#000" textLength="11.66" lengthAdjust="spacingAndGlyphs">10</text>
<line x1="805.0" y1="106.9" x2="807.5" y2="106.9" stroke="#6a6a74" stroke-width="0.9"/>
<line x1="805.0" y1="100" x2="807.5" y2="100" stroke="#6a6a74" stroke-width="0.9"/>
<line x1="805.0" y1="93.1" x2="807.5" y2="93.1" stroke="#6a6a74" stroke-width="0.9"/>
<line x1="805.0" y1="86.2" x2="807.5" y2="86.2" stroke="#6a6a74" stroke-width="0.9"/>
<line x1="805.0" y1="79.3" x2="807.5" y2="79.3" stroke="#6a6a74" stroke-width="0.9"/>
<line x1="805.0" y1="72.4" x2="807.5" y2="72.4" stroke="#6a6a74" stroke-width="0.9"/>
<line x1="805.0" y1="65.5" x2="807.5" y2="65.5" stroke="#6a6a74" stroke-width="0.9"/>
<line x1="805.0" y1="58.6" x2="807.5" y2="58.6" stroke="#6a6a74" stroke-width="0.9"/>
<line x1="805.0" y1="51.7" x2="807.5" y2="51.7" stroke="#6a6a74" stroke-width="0.9"/>
<line x1="805.0" y1="44.8" x2="807.5" y2="44.8" stroke="#6a6a74" stroke-width="0.9"/>
<line x1="805.0" y1="37.9" x2="807.5" y2="37.9" stroke="#6a6a74" stroke-width="0.9"/>
<text x="807.8" y="349.7" font-family="Liberation Sans, sans-serif" font-size="9.4" fill="#000" textLength="20.4" lengthAdjust="spacingAndGlyphs">37.5</text>
<text x="807.8" y="327.7" font-family="Liberation Sans, sans-serif" font-size="9.4" fill="#000" textLength="20.4" lengthAdjust="spacingAndGlyphs">40.0</text>
<text x="807.8" y="305.7" font-family="Liberation Sans, sans-serif" font-size="9.4" fill="#000" textLength="20.4" lengthAdjust="spacingAndGlyphs">42.5</text>
<text x="807.8" y="283.1" font-family="Liberation Sans, sans-serif" font-size="9.4" fill="#000" textLength="20.4" lengthAdjust="spacingAndGlyphs">45.0</text>
<text x="807.8" y="260.5" font-family="Liberation Sans, sans-serif" font-size="9.4" fill="#000" textLength="20.4" lengthAdjust="spacingAndGlyphs">47.5</text>
<text x="807.8" y="237.9" font-family="Liberation Sans, sans-serif" font-size="9.4" fill="#000" textLength="20.4" lengthAdjust="spacingAndGlyphs">50.0</text>
<text x="807.8" y="215.3" font-family="Liberation Sans, sans-serif" font-size="9.4" fill="#000" textLength="20.4" lengthAdjust="spacingAndGlyphs">52.5</text>
<text x="807.8" y="192.7" font-family="Liberation Sans, sans-serif" font-size="9.4" fill="#000" textLength="20.4" lengthAdjust="spacingAndGlyphs">55.0</text>
<text x="807.8" y="170.1" font-family="Liberation Sans, sans-serif" font-size="9.4" fill="#000" textLength="20.4" lengthAdjust="spacingAndGlyphs">57.5</text>
<text x="807.8" y="147.5" font-family="Liberation Sans, sans-serif" font-size="9.4" fill="#000" textLength="20.4" lengthAdjust="spacingAndGlyphs">60.0</text>
<text x="807.8" y="124.9" font-family="Liberation Sans, sans-serif" font-size="9.4" fill="#000" textLength="20.4" lengthAdjust="spacingAndGlyphs">62.5</text>
<line x1="805.0" y1="350.8" x2="806.5" y2="350.8" stroke="#6a6a74" stroke-width="0.9"/>
<line x1="805.0" y1="346.4" x2="807.5" y2="346.4" stroke="#6a6a74" stroke-width="0.9"/>
<line x1="805.0" y1="342" x2="806.5" y2="342" stroke="#6a6a74" stroke-width="0.9"/>
<line x1="805.0" y1="337.6" x2="806.5" y2="337.6" stroke="#6a6a74" stroke-width="0.9"/>
<line x1="805.0" y1="333.2" x2="806.5" y2="333.2" stroke="#6a6a74" stroke-width="0.9"/>
<line x1="805.0" y1="328.8" x2="806.5" y2="328.8" stroke="#6a6a74" stroke-width="0.9"/>
<line x1="805.0" y1="324.4" x2="807.5" y2="324.4" stroke="#6a6a74" stroke-width="0.9"/>
<line x1="805.0" y1="320" x2="806.5" y2="320" stroke="#6a6a74" stroke-width="0.9"/>
<line x1="805.0" y1="315.6" x2="806.5" y2="315.6" stroke="#6a6a74" stroke-width="0.9"/>
<line x1="805.0" y1="311.2" x2="806.5" y2="311.2" stroke="#6a6a74" stroke-width="0.9"/>
<line x1="805.0" y1="306.8" x2="806.5" y2="306.8" stroke="#6a6a74" stroke-width="0.9"/>
<line x1="805.0" y1="302.4" x2="807.5" y2="302.4" stroke="#6a6a74" stroke-width="0.9"/>
<line x1="805.0" y1="297.88" x2="806.5" y2="297.88" stroke="#6a6a74" stroke-width="0.9"/>
<line x1="805.0" y1="293.36" x2="806.5" y2="293.36" stroke="#6a6a74" stroke-width="0.9"/>
<line x1="805.0" y1="288.84" x2="806.5" y2="288.84" stroke="#6a6a74" stroke-width="0.9"/>
<line x1="805.0" y1="284.32" x2="806.5" y2="284.32" stroke="#6a6a74" stroke-width="0.9"/>
<line x1="805.0" y1="279.8" x2="807.5" y2="279.8" stroke="#6a6a74" stroke-width="0.9"/>
<line x1="805.0" y1="275.28" x2="806.5" y2="275.28" stroke="#6a6a74" stroke-width="0.9"/>
<line x1="805.0" y1="270.76" x2="806.5" y2="270.76" stroke="#6a6a74" stroke-width="0.9"/>
<line x1="805.0" y1="266.24" x2="806.5" y2="266.24" stroke="#6a6a74" stroke-width="0.9"/>
<line x1="805.0" y1="261.72" x2="806.5" y2="261.72" stroke="#6a6a74" stroke-width="0.9"/>
<line x1="805.0" y1="257.2" x2="807.5" y2="257.2" stroke="#6a6a74" stroke-width="0.9"/>
<line x1="805.0" y1="252.68" x2="806.5" y2="252.68" stroke="#6a6a74" stroke-width="0.9"/>
<line x1="805.0" y1="248.16" x2="806.5" y2="248.16" stroke="#6a6a74" stroke-width="0.9"/>
<line x1="805.0" y1="243.64" x2="806.5" y2="243.64" stroke="#6a6a74" stroke-width="0.9"/>
<line x1="805.0" y1="239.12" x2="806.5" y2="239.12" stroke="#6a6a74" stroke-width="0.9"/>
<line x1="805.0" y1="234.6" x2="807.5" y2="234.6" stroke="#6a6a74" stroke-width="0.9"/>
<line x1="805.0" y1="230.08" x2="806.5" y2="230.08" stroke="#6a6a74" stroke-width="0.9"/>
<line x1="805.0" y1="225.56" x2="806.5" y2="225.56" stroke="#6a6a74" stroke-width="0.9"/>
<line x1="805.0" y1="221.04" x2="806.5" y2="221.04" stroke="#6a6a74" stroke-width="0.9"/>
<line x1="805.0" y1="216.52" x2="806.5" y2="216.52" stroke="#6a6a74" stroke-width="0.9"/>
<line x1="805.0" y1="212" x2="807.5" y2="212" stroke="#6a6a74" stroke-width="0.9"/>
<line x1="805.0" y1="207.48" x2="806.5" y2="207.48" stroke="#6a6a74" stroke-width="0.9"/>
<line x1="805.0" y1="202.96" x2="806.5" y2="202.96" stroke="#6a6a74" stroke-width="0.9"/>
<line x1="805.0" y1="198.44" x2="806.5" y2="198.44" stroke="#6a6a74" stroke-width="0.9"/>
<line x1="805.0" y1="193.92" x2="806.5" y2="193.92" stroke="#6a6a74" stroke-width="0.9"/>
<line x1="805.0" y1="189.4" x2="807.5" y2="189.4" stroke="#6a6a74" stroke-width="0.9"/>
<line x1="805.0" y1="184.88" x2="806.5" y2="184.88" stroke="#6a6a74" stroke-width="0.9"/>
<line x1="805.0" y1="180.36" x2="806.5" y2="180.36" stroke="#6a6a74" stroke-width="0.9"/>
<line x1="805.0" y1="175.84" x2="806.5" y2="175.84" stroke="#6a6a74" stroke-width="0.9"/>
<line x1="805.0" y1="171.32" x2="806.5" y2="171.32" stroke="#6a6a74" stroke-width="0.9"/>
<line x1="805.0" y1="166.8" x2="807.5" y2="166.8" stroke="#6a6a74" stroke-width="0.9"/>
<line x1="805.0" y1="162.28" x2="806.5" y2="162.28" stroke="#6a6a74" stroke-width="0.9"/>
<line x1="805.0" y1="157.76" x2="806.5" y2="157.76" stroke="#6a6a74" stroke-width="0.9"/>
<line x1="805.0" y1="153.24" x2="806.5" y2="153.24" stroke="#6a6a74" stroke-width="0.9"/>
<line x1="805.0" y1="148.72" x2="806.5" y2="148.72" stroke="#6a6a74" stroke-width="0.9"/>
<line x1="805.0" y1="144.2" x2="807.5" y2="144.2" stroke="#6a6a74" stroke-width="0.9"/>
<line x1="805.0" y1="139.68" x2="806.5" y2="139.68" stroke="#6a6a74" stroke-width="0.9"/>
<line x1="805.0" y1="135.16" x2="806.5" y2="135.16" stroke="#6a6a74" stroke-width="0.9"/>
<line x1="805.0" y1="130.64" x2="806.5" y2="130.64" stroke="#6a6a74" stroke-width="0.9"/>
<line x1="805.0" y1="126.12" x2="806.5" y2="126.12" stroke="#6a6a74" stroke-width="0.9"/>
<line x1="805.0" y1="121.6" x2="807.5" y2="121.6" stroke="#6a6a74" stroke-width="0.9"/>
<line x1="805.0" y1="117.08" x2="806.5" y2="117.08" stroke="#6a6a74" stroke-width="0.9"/>
<text x="807.8" y="391.6" font-family="Liberation Sans, sans-serif" font-size="9.4" fill="#000" textLength="24.48" lengthAdjust="spacingAndGlyphs">400K</text>
<text x="807.8" y="422" font-family="Liberation Sans, sans-serif" font-size="9.4" fill="#000" textLength="24.48" lengthAdjust="spacingAndGlyphs">200K</text>
<line x1="805.0" y1="449.5" x2="807.5" y2="449.5" stroke="#6a6a74" stroke-width="0.9"/>
<line x1="805.0" y1="441.9" x2="806.5" y2="441.9" stroke="#6a6a74" stroke-width="0.9"/>
<line x1="805.0" y1="434.3" x2="806.5" y2="434.3" stroke="#6a6a74" stroke-width="0.9"/>
<line x1="805.0" y1="426.7" x2="806.5" y2="426.7" stroke="#6a6a74" stroke-width="0.9"/>
<line x1="805.0" y1="419.1" x2="807.5" y2="419.1" stroke="#6a6a74" stroke-width="0.9"/>
<line x1="805.0" y1="411.5" x2="806.5" y2="411.5" stroke="#6a6a74" stroke-width="0.9"/>
<line x1="805.0" y1="403.9" x2="806.5" y2="403.9" stroke="#6a6a74" stroke-width="0.9"/>
<line x1="805.0" y1="396.3" x2="806.5" y2="396.3" stroke="#6a6a74" stroke-width="0.9"/>
<line x1="805.0" y1="388.7" x2="807.5" y2="388.7" stroke="#6a6a74" stroke-width="0.9"/>
<line x1="805.0" y1="381.1" x2="806.5" y2="381.1" stroke="#6a6a74" stroke-width="0.9"/>
<line x1="805.0" y1="373.5" x2="806.5" y2="373.5" stroke="#6a6a74" stroke-width="0.9"/>
<text x="811.3" y="465.37" font-family="Liberation Sans, sans-serif" font-size="9.4" fill="#000" textLength="5.83" lengthAdjust="spacingAndGlyphs">2</text>
<text x="807.8" y="516.77" font-family="Liberation Sans, sans-serif" font-size="9.4" fill="#000" textLength="9.32" lengthAdjust="spacingAndGlyphs">-2</text>
<line x1="805.0" y1="526.32" x2="807.5" y2="526.32" stroke="#6a6a74" stroke-width="0.9"/>
<line x1="805.0" y1="523.11" x2="806.5" y2="523.11" stroke="#6a6a74" stroke-width="0.9"/>
<line x1="805.0" y1="519.9" x2="806.5" y2="519.9" stroke="#6a6a74" stroke-width="0.9"/>
<line x1="805.0" y1="516.69" x2="806.5" y2="516.69" stroke="#6a6a74" stroke-width="0.9"/>
<line x1="805.0" y1="513.47" x2="807.5" y2="513.47" stroke="#6a6a74" stroke-width="0.9"/>
<line x1="805.0" y1="510.26" x2="806.5" y2="510.26" stroke="#6a6a74" stroke-width="0.9"/>
<line x1="805.0" y1="507.05" x2="806.5" y2="507.05" stroke="#6a6a74" stroke-width="0.9"/>
<line x1="805.0" y1="503.84" x2="806.5" y2="503.84" stroke="#6a6a74" stroke-width="0.9"/>
<line x1="805.0" y1="500.62" x2="807.5" y2="500.62" stroke="#6a6a74" stroke-width="0.9"/>
<line x1="805.0" y1="497.41" x2="806.5" y2="497.41" stroke="#6a6a74" stroke-width="0.9"/>
<line x1="805.0" y1="494.2" x2="806.5" y2="494.2" stroke="#6a6a74" stroke-width="0.9"/>
<line x1="805.0" y1="490.99" x2="806.5" y2="490.99" stroke="#6a6a74" stroke-width="0.9"/>
<line x1="805.0" y1="487.77" x2="807.5" y2="487.77" stroke="#6a6a74" stroke-width="0.9"/>
<line x1="805.0" y1="484.56" x2="806.5" y2="484.56" stroke="#6a6a74" stroke-width="0.9"/>
<line x1="805.0" y1="481.35" x2="806.5" y2="481.35" stroke="#6a6a74" stroke-width="0.9"/>
<line x1="805.0" y1="478.14" x2="806.5" y2="478.14" stroke="#6a6a74" stroke-width="0.9"/>
<line x1="805.0" y1="474.92" x2="807.5" y2="474.92" stroke="#6a6a74" stroke-width="0.9"/>
<line x1="805.0" y1="471.71" x2="806.5" y2="471.71" stroke="#6a6a74" stroke-width="0.9"/>
<line x1="805.0" y1="468.5" x2="806.5" y2="468.5" stroke="#6a6a74" stroke-width="0.9"/>
<line x1="805.0" y1="465.29" x2="806.5" y2="465.29" stroke="#6a6a74" stroke-width="0.9"/>
<line x1="805.0" y1="462.07" x2="807.5" y2="462.07" stroke="#6a6a74" stroke-width="0.9"/>
<line x1="805.0" y1="458.86" x2="806.5" y2="458.86" stroke="#6a6a74" stroke-width="0.9"/>
<line x1="805.0" y1="455.65" x2="806.5" y2="455.65" stroke="#6a6a74" stroke-width="0.9"/>
<line x1="805.0" y1="452.44" x2="806.5" y2="452.44" stroke="#6a6a74" stroke-width="0.9"/>
<text x="807.8" y="556.45" font-family="Liberation Sans, sans-serif" font-size="9.4" fill="#000" textLength="11.66" lengthAdjust="spacingAndGlyphs">80</text>
<text x="807.8" y="577.6" font-family="Liberation Sans, sans-serif" font-size="9.4" fill="#000" textLength="11.66" lengthAdjust="spacingAndGlyphs">50</text>
<text x="807.8" y="598.75" font-family="Liberation Sans, sans-serif" font-size="9.4" fill="#000" textLength="11.66" lengthAdjust="spacingAndGlyphs">20</text>
<line x1="805.0" y1="609.55" x2="807.5" y2="609.55" stroke="#6a6a74" stroke-width="0.9"/>
<line x1="805.0" y1="602.5" x2="807.5" y2="602.5" stroke="#6a6a74" stroke-width="0.9"/>
<line x1="805.0" y1="595.45" x2="807.5" y2="595.45" stroke="#6a6a74" stroke-width="0.9"/>
<line x1="805.0" y1="588.4" x2="807.5" y2="588.4" stroke="#6a6a74" stroke-width="0.9"/>
<line x1="805.0" y1="581.35" x2="807.5" y2="581.35" stroke="#6a6a74" stroke-width="0.9"/>
<line x1="805.0" y1="574.3" x2="807.5" y2="574.3" stroke="#6a6a74" stroke-width="0.9"/>
<line x1="805.0" y1="567.25" x2="807.5" y2="567.25" stroke="#6a6a74" stroke-width="0.9"/>
<line x1="805.0" y1="560.2" x2="807.5" y2="560.2" stroke="#6a6a74" stroke-width="0.9"/>
<line x1="805.0" y1="553.15" x2="807.5" y2="553.15" stroke="#6a6a74" stroke-width="0.9"/>
<line x1="805.0" y1="546.1" x2="807.5" y2="546.1" stroke="#6a6a74" stroke-width="0.9"/>
<line x1="805.0" y1="539.05" x2="807.5" y2="539.05" stroke="#6a6a74" stroke-width="0.9"/>
<path d="M802.2 87.4L805.8 82.3H835.4V92.5H805.8Z" fill="#fff" stroke="#111" stroke-width="1.15" stroke-linejoin="miter"/>
<text x="806.9" y="90.8" font-family="Liberation Sans, sans-serif" font-size="9.5" fill="#000" textLength="25.5" lengthAdjust="spacingAndGlyphs">28.97</text>
<path d="M802.2 314.4L805.8 309.3H835.6V319.5H805.8Z" fill="#fff" stroke="#2b2b86" stroke-width="1.4" stroke-linejoin="miter"/>
<text x="806.9" y="317.8" font-family="Liberation Sans, sans-serif" font-size="9.5" fill="#000" textLength="25.7" lengthAdjust="spacingAndGlyphs">41.19</text>
<path d="M802.2 327L805.8 321.9H835.6V332.1H805.8Z" fill="#fff" stroke="#000" stroke-width="1.4" stroke-linejoin="miter"/>
<text x="806.9" y="330.4" font-family="Liberation Sans, sans-serif" font-size="9.5" font-weight="bold" fill="#000" textLength="25.7" lengthAdjust="spacingAndGlyphs">39.64</text>
<path d="M802.2 395.3L805.8 390.2H843.6V400.4H805.8Z" fill="#fff" stroke="#111" stroke-width="1.15" stroke-linejoin="miter"/>
<text x="806.9" y="398.7" font-family="Liberation Sans, sans-serif" font-size="9.5" fill="#000" textLength="33.7" lengthAdjust="spacingAndGlyphs">356240</text>
<path d="M802.2 489.7L805.8 484.6H838.4V494.8H805.8Z" fill="#fff" stroke="#111" stroke-width="1.15" stroke-linejoin="miter"/>
<text x="806.9" y="493.1" font-family="Liberation Sans, sans-serif" font-size="9.5" fill="#000" textLength="28.5" lengthAdjust="spacingAndGlyphs">-0.090</text>
<path d="M802.2 523.7L805.8 518.6H838.4V528.8H805.8Z" fill="#fff" stroke="#e0407a" stroke-width="1.3" stroke-linejoin="miter"/>
<text x="806.9" y="527.1" font-family="Liberation Sans, sans-serif" font-size="9.5" fill="#000" textLength="28.5" lengthAdjust="spacingAndGlyphs">-2.9</text>
<path d="M802.2 524.9L805.8 519.8H838.4V530H805.8Z" fill="#fff" stroke="#111" stroke-width="1.15" stroke-linejoin="miter"/>
<text x="806.9" y="528.3" font-family="Liberation Sans, sans-serif" font-size="9.5" fill="#000" textLength="28.5" lengthAdjust="spacingAndGlyphs">-2.926</text>
<path d="M802.2 603.2L805.8 598.1H829V608.3H805.8Z" fill="#fff" stroke="#e0407a" stroke-width="1.3" stroke-linejoin="miter"/>
<text x="806.9" y="606.6" font-family="Liberation Sans, sans-serif" font-size="9.5" fill="#000" textLength="19.1" lengthAdjust="spacingAndGlyphs">14.0</text>
<path d="M802.2 601.1L805.8 596H835.2V606.2H805.8Z" fill="#fff" stroke="#111" stroke-width="1.15" stroke-linejoin="miter"/>
<text x="806.9" y="604.5" font-family="Liberation Sans, sans-serif" font-size="9.5" fill="#000" textLength="25.3" lengthAdjust="spacingAndGlyphs">11.55</text>
<text x="15.5" y="15.8" font-family="Liberation Sans, sans-serif" font-size="14.2" font-weight="bold" fill="#000" textLength="40.4" lengthAdjust="spacingAndGlyphs">$WTIC</text>
<text x="59.6" y="14.9" font-family="Liberation Sans, sans-serif" font-size="11.1" fill="#000" textLength="160.1" lengthAdjust="spacingAndGlyphs">Light Crude Oil - Spot Price (EOD)</text>
<text x="226.3" y="14.4" font-family="Liberation Sans, sans-serif" font-size="7.8" fill="#000" textLength="20.4" lengthAdjust="spacingAndGlyphs">CME</text>
<text x="15.5" y="27.5" font-family="Liberation Sans, sans-serif" font-size="9.3" fill="#000" textLength="59.5" lengthAdjust="spacingAndGlyphs">25-Aug-2015</text>
<text x="357.7" y="27.35" font-family="Liberation Sans, sans-serif" font-size="10" font-weight="bold" fill="#000" textLength="28.4" lengthAdjust="spacingAndGlyphs">Open</text>
<text x="389.8" y="27.35" font-family="Liberation Sans, sans-serif" font-size="9.4" fill="#000" textLength="25.9" lengthAdjust="spacingAndGlyphs">38.18</text>
<text x="422.6" y="27.35" font-family="Liberation Sans, sans-serif" font-size="10" font-weight="bold" fill="#000" textLength="23.5" lengthAdjust="spacingAndGlyphs">High</text>
<text x="450.1" y="27.35" font-family="Liberation Sans, sans-serif" font-size="9.4" fill="#000" textLength="25.8" lengthAdjust="spacingAndGlyphs">39.89</text>
<text x="483" y="27.35" font-family="Liberation Sans, sans-serif" font-size="10" font-weight="bold" fill="#000" textLength="22.3" lengthAdjust="spacingAndGlyphs">Low</text>
<text x="510" y="27.35" font-family="Liberation Sans, sans-serif" font-size="9.4" fill="#000" textLength="25.9" lengthAdjust="spacingAndGlyphs">38.16</text>
<text x="542.9" y="27.35" font-family="Liberation Sans, sans-serif" font-size="10" font-weight="bold" fill="#000" textLength="31" lengthAdjust="spacingAndGlyphs">Close</text>
<text x="578.2" y="27.35" font-family="Liberation Sans, sans-serif" font-size="9.4" fill="#000" textLength="26.5" lengthAdjust="spacingAndGlyphs">39.64</text>
<text x="611.05" y="27.35" font-family="Liberation Sans, sans-serif" font-size="10" font-weight="bold" fill="#000" textLength="41.65" lengthAdjust="spacingAndGlyphs">Volume</text>
<text x="656.5" y="27.35" font-family="Liberation Sans, sans-serif" font-size="9.4" fill="#000" textLength="34.7" lengthAdjust="spacingAndGlyphs">356.2K</text>
<text x="697.1" y="27.35" font-family="Liberation Sans, sans-serif" font-size="10" font-weight="bold" fill="#000" textLength="20.9" lengthAdjust="spacingAndGlyphs">Chg</text>
<text x="722.2" y="27.35" font-family="Liberation Sans, sans-serif" font-size="9.4" fill="#000" textLength="72.4" lengthAdjust="spacingAndGlyphs">+1.58 (+4.15%)</text>
<path d="M797.2 26.9L800.6 22.8L804 26.9Z" fill="#555"/>
<text x="714.8" y="14.6" font-family="Liberation Sans, sans-serif" font-size="10" class="c" fill="#4c4c4c" textLength="89.3" lengthAdjust="spacingAndGlyphs">© StockCharts.com</text>
<path d="M19.4 116.2V121.6M18 117.2H19.4M19.4 120.2H21.2 M22.45 119V124.8M21 123.4H24 M25.5 116.2V122.3M24 121.5H25.5M25.5 119.3H27.1" stroke="#1c6a2a" stroke-width="1.25" fill="none"/>
<text x="30.8" y="124.4" font-family="Liberation Sans, sans-serif" class="c" font-size="10.2" fill="#000" textLength="113.4" lengthAdjust="spacingAndGlyphs">$WTIC (Daily) 39.64</text>
<text x="404" y="111.8" font-family="Liberation Sans, sans-serif" font-size="16.4" class="c" font-weight="bold" fill="#e60f1a" textLength="42.2" lengthAdjust="spacingAndGlyphs">WTIC</text>
<text x="587.5" y="135.9" font-family="Liberation Sans, sans-serif" font-size="16.3" class="c" font-weight="bold" fill="#e60f1a" textLength="199" lengthAdjust="spacingAndGlyphs">When Oil bottoms, I think</text>
<text x="587.5" y="156.5" font-family="Liberation Sans, sans-serif" font-size="16.3" class="c" font-weight="bold" fill="#e60f1a" textLength="178" lengthAdjust="spacingAndGlyphs">we will get a great rally</text>
<text x="400.4" y="572" font-family="Liberation Sans, sans-serif" font-size="16.3" class="c" font-weight="bold" fill="#e60f1a" textLength="108.4" lengthAdjust="spacingAndGlyphs">Very oversold</text>
<rect x="0" y="0" width="851" height="1.2" fill="#34345e"/>
<rect x="848.2" y="0" width="2.8" height="636" fill="#34345e"/>
<rect x="0" y="632.6" width="851" height="3.4" fill="#34345e"/>
</svg>
</body></html>
